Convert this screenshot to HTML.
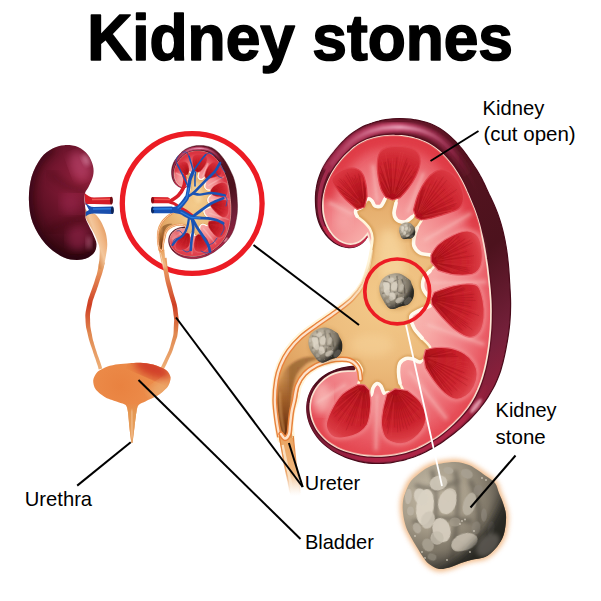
<!DOCTYPE html>
<html><head><meta charset="utf-8"><title>Kidney stones</title>
<style>
html,body{margin:0;padding:0;background:#fff;}
body{width:601px;height:601px;overflow:hidden;font-family:"Liberation Sans",sans-serif;}
svg{display:block;}
text{font-family:"Liberation Sans",sans-serif;fill:#000;}
</style></head><body>
<svg width="601" height="601" viewBox="0 0 601 601">
<defs>

<radialGradient id="gFace" gradientUnits="userSpaceOnUse" cx="0" cy="0" r="185" gradientTransform="translate(388,295) scale(0.7,1)">
  <stop offset="0" stop-color="#fbc8c0"/><stop offset="0.38" stop-color="#f7a9a6"/>
  <stop offset="0.62" stop-color="#f07f85"/><stop offset="0.82" stop-color="#e8545e"/><stop offset="1" stop-color="#df3c46"/>
</radialGradient>
<linearGradient id="gCaps" gradientUnits="userSpaceOnUse" x1="320" y1="140" x2="510" y2="400">
  <stop offset="0" stop-color="#741a32"/><stop offset="0.27" stop-color="#561420"/>
  <stop offset="0.58" stop-color="#4c121d"/><stop offset="0.82" stop-color="#74203a"/><stop offset="1" stop-color="#9a1f3c"/>
</linearGradient>
<radialGradient id="gPelvis" gradientUnits="userSpaceOnUse" cx="385" cy="300" r="120">
  <stop offset="0" stop-color="#f3ca8a"/><stop offset="0.5" stop-color="#edbd7e"/><stop offset="1" stop-color="#e0a260"/>
</radialGradient>
<radialGradient id="gLK" gradientUnits="userSpaceOnUse" cx="82" cy="180" r="80">
  <stop offset="0" stop-color="#92203c"/><stop offset="0.3" stop-color="#7a1832"/>
  <stop offset="0.6" stop-color="#5e1024"/><stop offset="0.85" stop-color="#420a18"/><stop offset="1" stop-color="#30060e"/>
</radialGradient>
<linearGradient id="gUr" gradientUnits="userSpaceOnUse" x1="0" y1="225" x2="0" y2="370">
  <stop offset="0" stop-color="#eeb078"/><stop offset="0.3" stop-color="#e89a60"/>
  <stop offset="0.55" stop-color="#cf3f24"/><stop offset="0.75" stop-color="#e08850"/><stop offset="1" stop-color="#eeb078"/>
</linearGradient>
<radialGradient id="gBl" gradientUnits="userSpaceOnUse" cx="150" cy="370" r="60">
  <stop offset="0" stop-color="#d9502e"/><stop offset="0.45" stop-color="#e8854a"/><stop offset="1" stop-color="#ee9a5c"/>
</radialGradient>
<radialGradient id="gStone" gradientUnits="userSpaceOnUse" cx="435" cy="495" r="75">
  <stop offset="0" stop-color="#b5ad9e"/><stop offset="0.5" stop-color="#8d8577"/><stop offset="0.85" stop-color="#57534c"/><stop offset="1" stop-color="#35332f"/>
</radialGradient>
<radialGradient id="gGlow" gradientUnits="userSpaceOnUse" cx="454" cy="516" r="62">
  <stop offset="0.8" stop-color="#f3c08a" stop-opacity="0.9"/><stop offset="1" stop-color="#f8dcb8" stop-opacity="0"/>
</radialGradient>
<filter id="b05"><feGaussianBlur stdDeviation="0.5"/></filter>
<filter id="b07"><feGaussianBlur stdDeviation="0.75"/></filter>
<filter id="b1"><feGaussianBlur stdDeviation="1"/></filter>
<filter id="b2"><feGaussianBlur stdDeviation="2"/></filter>
<filter id="b3"><feGaussianBlur stdDeviation="2.8"/></filter>
<filter id="b4"><feGaussianBlur stdDeviation="4"/></filter>

<clipPath id="cBl"><path d="M129.4,363.2C126.4,363.4 120.9,363.9 118.0,364.3C115.1,364.7 110.2,365.5 107.5,366.5C104.8,367.5 99.3,370.2 97.4,372.0C95.5,373.8 93.4,377.9 93.2,380.2C93.0,382.5 93.9,387.0 95.6,389.3C97.3,391.6 102.6,395.9 105.6,397.6C108.6,399.3 115.7,401.2 118.4,402.2C121.1,403.2 124.4,403.7 125.7,405.0C127.0,406.3 127.5,409.3 128.0,412.2C128.5,415.1 129.0,423.0 129.4,426.9C129.8,430.8 130.9,439.4 131.2,441.5C131.5,443.6 131.8,443.0 132.0,443.0C132.2,443.0 132.4,443.6 132.7,441.5C133.0,439.4 134.0,430.8 134.5,426.9C135.0,423.0 135.9,415.1 136.4,412.2C136.9,409.3 137.3,406.5 138.6,405.0C139.9,403.5 143.2,402.6 145.9,401.2C148.6,399.8 155.8,396.7 158.7,394.8C161.6,392.9 166.2,388.9 167.8,386.6C169.4,384.3 170.8,379.7 170.6,377.5C170.4,375.3 168.3,371.7 166.0,370.0C163.7,368.3 156.6,365.6 153.2,364.6C149.8,363.6 143.6,363.0 140.4,362.8C137.2,362.6 132.4,363.0 129.4,363.2Z"/></clipPath>
<linearGradient id="gUre" gradientUnits="userSpaceOnUse" x1="0" y1="402" x2="0" y2="444"><stop offset="0" stop-color="#e4904e" stop-opacity="0"/><stop offset="0.25" stop-color="#e49852"/><stop offset="1" stop-color="#e8a668"/></linearGradient>
<radialGradient id="gBl2" gradientUnits="userSpaceOnUse" cx="120" cy="386" r="55">
<stop offset="0" stop-color="#e98240"/><stop offset="0.6" stop-color="#ec8c4a"/><stop offset="1" stop-color="#ee9858"/></radialGradient>
<linearGradient id="gFun" gradientUnits="userSpaceOnUse" x1="88" y1="235" x2="108" y2="228">
<stop offset="0" stop-color="#d98a4e"/><stop offset="0.35" stop-color="#f3c79c"/><stop offset="0.6" stop-color="#f0b684"/><stop offset="1" stop-color="#de9256"/></linearGradient>
<clipPath id="cLK"><path d="M64.3,145.2C68.5,144.9 74.0,145.4 78.0,147.0C82.0,148.6 85.5,151.8 88.0,155.0C90.5,158.2 92.2,162.5 93.0,166.0C93.8,169.5 93.7,172.7 93.0,176.0C92.3,179.3 90.3,183.2 89.0,186.0C87.7,188.8 85.8,190.7 85.0,193.0C84.2,195.3 84.4,197.2 84.5,200.0C84.6,202.8 85.3,207.0 85.5,210.0C85.7,213.0 84.9,215.3 85.5,218.0C86.1,220.7 87.8,223.3 89.0,226.0C90.2,228.7 91.8,231.0 93.0,234.0C94.2,237.0 96.4,240.8 96.5,244.0C96.6,247.2 95.9,250.9 93.5,253.5C91.1,256.1 86.9,258.9 82.0,259.6C77.1,260.3 70.1,260.1 64.0,257.5C57.9,254.9 50.8,249.8 45.6,244.0C40.4,238.2 35.6,230.3 32.8,223.0C30.0,215.7 29.1,207.7 28.9,200.0C28.7,192.3 29.7,183.6 31.7,176.6C33.7,169.6 37.5,162.7 41.0,158.0C44.5,153.3 48.7,150.7 52.6,148.6C56.5,146.5 60.1,145.5 64.3,145.2Z"/></clipPath>
<linearGradient id="gStripe" gradientUnits="userSpaceOnUse" x1="330" y1="0" x2="480" y2="0">
<stop offset="0" stop-color="#a02a4c"/><stop offset="0.45" stop-color="#c04468"/><stop offset="0.8" stop-color="#8a2040" stop-opacity="0.7"/><stop offset="1" stop-color="#5a1424" stop-opacity="0"/></linearGradient>
<linearGradient id="gStripeHi" gradientUnits="userSpaceOnUse" x1="340" y1="0" x2="460" y2="0">
<stop offset="0" stop-color="#d87898" stop-opacity="0.2"/><stop offset="0.5" stop-color="#e8a0b8" stop-opacity="0.95"/><stop offset="1" stop-color="#c05878" stop-opacity="0"/></linearGradient>
<linearGradient id="gStripeB" gradientUnits="userSpaceOnUse" x1="300" y1="0" x2="505" y2="0">
<stop offset="0" stop-color="#8a1c38" stop-opacity="0.3"/><stop offset="0.3" stop-color="#a82244"/><stop offset="0.8" stop-color="#b02848"/><stop offset="1" stop-color="#7a1a30" stop-opacity="0"/></linearGradient>
<clipPath id="cFace"><path d="M367.6,233.6C366.9,234.4 364.9,237.1 363.3,238.6C361.8,240.0 360.1,241.4 358.3,242.3C356.4,243.2 354.4,243.8 352.3,244.0C350.3,244.2 348.1,244.0 346.0,243.5C344.0,243.1 341.9,242.2 340.0,241.1C338.1,240.0 336.4,238.6 334.8,237.1C333.2,235.6 331.7,233.8 330.5,231.9C329.2,230.0 328.1,228.0 327.1,225.9C326.2,223.9 325.4,221.7 324.7,219.5C324.1,217.3 323.6,215.0 323.3,212.8C323.0,210.5 322.9,208.2 322.9,205.9C322.9,203.6 323.0,201.3 323.3,199.0C323.6,196.8 324.0,194.5 324.6,192.2C325.1,190.0 325.7,187.7 326.5,185.5C327.3,183.3 328.1,181.2 329.1,179.1C330.1,177.0 331.1,174.9 332.3,172.9C333.5,170.9 334.8,169.0 336.1,167.0C337.4,165.1 338.9,163.3 340.3,161.5C341.8,159.7 343.3,157.9 344.9,156.2C346.5,154.5 348.2,152.8 349.9,151.3C351.6,149.7 353.3,148.2 355.2,146.8C357.0,145.4 359.0,144.2 361.0,143.1C363.0,141.9 365.1,141.0 367.2,140.1C369.4,139.3 371.6,138.6 373.8,138.0C376.1,137.4 378.4,137.0 380.7,136.6C382.9,136.3 385.3,136.0 387.6,135.8C389.9,135.6 392.2,135.5 394.6,135.6C396.9,135.6 399.2,135.7 401.5,135.9C403.8,136.1 406.1,136.4 408.4,136.9C410.7,137.3 413.0,137.8 415.2,138.5C417.4,139.1 419.6,139.8 421.8,140.7C423.9,141.5 426.0,142.5 428.0,143.6C430.1,144.7 432.0,145.9 433.9,147.2C435.8,148.6 437.6,150.0 439.4,151.5C441.1,153.0 442.8,154.7 444.4,156.3C446.0,158.0 447.6,159.8 449.0,161.6C450.5,163.4 451.9,165.2 453.3,167.1C454.6,169.0 455.9,171.0 457.2,172.9C458.4,174.9 459.6,176.9 460.7,179.0C461.8,181.0 462.9,183.1 463.9,185.2C464.9,187.3 465.9,189.4 466.8,191.6C467.8,193.7 468.7,195.8 469.6,198.0C470.5,200.1 471.4,202.3 472.3,204.5C473.2,206.6 474.1,208.8 474.9,211.0C475.7,213.2 476.4,215.4 477.1,217.6C477.9,219.8 478.5,222.1 479.2,224.3C479.8,226.6 480.4,228.8 480.9,231.1C481.5,233.4 482.0,235.7 482.5,238.0C483.0,240.2 483.4,242.5 483.9,244.8C484.3,247.1 484.7,249.4 485.1,251.7C485.5,254.0 485.9,256.4 486.2,258.7C486.6,261.0 486.9,263.3 487.3,265.6C487.6,267.9 487.9,270.3 488.1,272.6C488.4,274.9 488.7,277.2 488.9,279.6C489.2,281.9 489.4,284.2 489.6,286.5C489.9,288.9 490.1,291.2 490.2,293.5C490.4,295.9 490.6,298.2 490.7,300.5C490.8,302.9 490.9,305.2 490.9,307.5C491.0,309.9 491.0,312.2 490.9,314.6C490.9,316.9 490.9,319.2 490.8,321.6C490.7,323.9 490.6,326.2 490.5,328.6C490.3,330.9 490.1,333.2 489.9,335.6C489.7,337.9 489.5,340.2 489.2,342.6C489.0,344.9 488.7,347.2 488.3,349.5C488.0,351.8 487.6,354.1 487.2,356.4C486.8,358.7 486.3,361.0 485.9,363.3C485.4,365.6 484.9,367.9 484.3,370.2C483.7,372.4 483.1,374.7 482.4,376.9C481.7,379.1 481.0,381.3 480.2,383.5C479.4,385.7 478.5,387.9 477.6,390.0C476.6,392.1 475.6,394.2 474.5,396.3C473.4,398.3 472.2,400.3 471.0,402.3C469.8,404.3 468.4,406.2 467.1,408.1C465.7,410.0 464.2,411.8 462.7,413.5C461.2,415.3 459.7,417.0 458.0,418.7C456.4,420.4 454.8,422.0 453.1,423.6C451.4,425.3 449.6,426.8 447.9,428.3C446.1,429.9 444.3,431.4 442.5,432.8C440.6,434.3 438.8,435.7 436.9,437.0C434.9,438.3 433.0,439.6 431.0,440.8C429.0,442.1 427.0,443.2 425.0,444.3C422.9,445.4 420.8,446.5 418.7,447.4C416.6,448.4 414.4,449.2 412.2,450.0C410.1,450.8 407.8,451.5 405.6,452.1C403.3,452.7 401.1,453.2 398.8,453.7C396.5,454.2 394.2,454.6 391.9,454.9C389.6,455.2 387.3,455.5 385.0,455.6C382.7,455.8 380.3,455.9 378.0,455.9C375.7,455.9 373.3,455.8 371.0,455.7C368.7,455.6 366.4,455.4 364.1,455.1C361.8,454.8 359.5,454.4 357.2,453.9C354.9,453.5 352.6,452.9 350.4,452.3C348.2,451.7 345.9,451.0 343.8,450.2C341.6,449.4 339.5,448.5 337.4,447.5C335.4,446.4 333.4,445.3 331.5,444.0C329.6,442.7 327.7,441.3 326.0,439.8C324.3,438.3 322.6,436.7 321.2,435.0C319.7,433.3 318.3,431.4 317.0,429.5C315.8,427.6 314.7,425.6 313.8,423.5C312.8,421.4 312.0,419.3 311.5,417.1C310.9,414.9 310.5,412.6 310.3,410.4C310.1,408.2 310.1,405.9 310.4,403.7C310.6,401.4 311.1,399.2 311.8,397.1C312.5,395.0 313.5,392.9 314.5,390.9C315.6,388.9 316.9,387.0 318.3,385.2C319.7,383.5 321.3,381.8 323.0,380.3C324.7,378.8 326.6,377.5 328.5,376.3C330.4,375.2 332.5,374.2 334.6,373.4C336.7,372.7 338.9,372.1 341.2,371.7C343.4,371.3 345.7,371.2 348.0,371.1C350.3,371.0 353.8,371.0 355.0,371.0 L380,330 L380,270 Z"/></clipPath>
<clipPath id="cPel"><path d="M279.0,441.0C276.5,438.1 275.9,425.7 275.0,420.0C274.1,414.3 272.6,405.6 272.5,400.0C272.4,394.4 273.2,385.0 274.0,380.0C274.8,375.0 276.3,368.3 278.0,364.0C279.7,359.7 283.1,353.1 286.0,349.0C288.9,344.9 294.9,338.2 299.0,334.5C303.1,330.8 310.2,325.9 315.0,322.5C319.8,319.1 328.1,313.6 333.0,310.0C337.9,306.4 346.1,300.8 350.0,297.0C353.9,293.2 358.6,287.3 361.0,283.0C363.4,278.7 366.1,270.6 367.5,266.0C368.9,261.4 370.3,253.9 371.0,250.0C371.7,246.1 372.6,240.9 372.5,238.0C372.4,235.1 371.2,231.2 370.0,229.0C368.8,226.8 365.8,223.8 364.0,222.0C362.2,220.2 358.1,217.7 357.0,216.0C355.9,214.3 355.3,211.3 356.0,210.0C356.7,208.7 360.3,208.5 362.0,207.0C363.7,205.5 366.6,199.8 368.0,199.0C369.4,198.2 371.0,200.0 372.0,201.0C373.0,202.0 373.7,205.3 375.0,206.0C376.3,206.7 379.6,207.0 381.0,206.0C382.4,205.0 384.2,200.8 385.0,199.0C385.8,197.2 385.3,193.8 387.0,193.0C388.7,192.2 395.7,191.6 397.0,193.0C398.3,194.4 396.4,200.2 396.0,203.0C395.6,205.8 393.9,210.6 394.0,213.0C394.1,215.4 395.5,218.7 397.0,220.0C398.5,221.3 402.9,222.4 405.0,222.0C407.1,221.6 410.3,218.3 412.0,217.0C413.7,215.7 415.6,212.7 417.0,213.0C418.4,213.3 422.0,216.9 422.0,219.0C422.0,221.1 418.1,225.3 417.0,228.0C415.9,230.7 414.4,235.5 414.0,238.0C413.6,240.5 413.2,243.9 414.0,246.0C414.8,248.1 417.8,251.7 420.0,253.0C422.2,254.3 427.6,254.4 430.0,255.0C432.4,255.6 436.2,255.7 437.0,257.0C437.8,258.3 437.0,262.0 436.0,264.0C435.0,266.0 431.7,269.0 430.0,271.0C428.3,273.0 425.0,275.6 424.0,278.0C423.0,280.4 422.4,285.5 423.0,288.0C423.6,290.5 426.5,294.3 428.0,296.0C429.5,297.7 433.7,298.6 434.0,300.0C434.3,301.4 432.0,304.6 430.0,306.0C428.0,307.4 422.7,308.6 420.0,310.0C417.3,311.4 411.8,313.5 411.0,316.0C410.2,318.5 412.5,324.9 414.0,328.0C415.5,331.1 419.8,335.3 422.0,338.0C424.2,340.7 429.2,344.6 430.0,347.0C430.8,349.4 429.4,352.9 428.0,355.0C426.6,357.1 422.1,361.4 420.0,362.0C417.9,362.6 415.0,359.5 413.0,359.0C411.0,358.5 407.8,357.9 406.0,358.5C404.2,359.1 401.1,361.1 400.0,363.0C398.9,364.9 398.5,369.2 398.5,372.0C398.5,374.8 399.4,380.3 400.0,383.0C400.6,385.7 403.6,389.5 403.0,391.0C402.4,392.5 398.1,393.9 396.0,394.0C393.9,394.1 389.7,392.1 388.0,392.0C386.3,391.9 385.0,393.8 384.0,393.0C383.0,392.2 382.0,387.3 381.0,386.0C380.0,384.7 378.1,383.2 377.0,383.5C375.9,383.8 373.8,386.4 373.0,388.0C372.2,389.6 372.1,394.4 371.0,395.0C369.9,395.6 366.8,393.0 365.0,392.0C363.2,391.0 358.7,390.0 358.0,388.0C357.3,386.0 359.4,380.5 360.0,378.0C360.6,375.5 362.4,372.2 362.0,370.0C361.6,367.8 358.7,363.2 357.0,362.0C355.3,360.8 352.1,361.5 350.0,361.5C347.9,361.5 344.7,361.8 342.0,362.0C339.3,362.2 334.4,362.2 331.0,363.0C327.6,363.8 321.4,366.2 318.0,368.0C314.6,369.8 309.4,373.4 307.0,376.0C304.6,378.6 301.9,383.2 300.6,386.6C299.3,390.0 298.9,396.7 298.0,400.0C297.1,403.3 295.2,406.4 294.4,410.0C293.6,413.6 292.7,421.7 292.5,426.0C292.3,430.3 294.9,438.9 293.0,441.0C291.1,443.1 281.5,443.9 279.0,441.0Z"/></clipPath>
<linearGradient id="gLum" gradientUnits="userSpaceOnUse" x1="312" y1="356" x2="283" y2="425">
<stop offset="0" stop-color="#c88a4c" stop-opacity="0"/><stop offset="0.4" stop-color="#c48644" stop-opacity="0.4"/><stop offset="0.75" stop-color="#a4622c" stop-opacity="0.8"/><stop offset="1" stop-color="#70360f"/></linearGradient>
<linearGradient id="gLum2" gradientUnits="userSpaceOnUse" x1="276" y1="0" x2="291" y2="0">
<stop offset="0" stop-color="#c98a50" stop-opacity="0.0"/><stop offset="1" stop-color="#4e2008" stop-opacity="0.4"/></linearGradient>
<linearGradient id="gWallFade" gradientUnits="userSpaceOnUse" x1="335" y1="312" x2="370" y2="262">
<stop offset="0" stop-color="#e8823c"/><stop offset="1" stop-color="#e8a868" stop-opacity="0"/></linearGradient>
<linearGradient id="gWallFade2" gradientUnits="userSpaceOnUse" x1="335" y1="312" x2="370" y2="262">
<stop offset="0" stop-color="#fde3cc"/><stop offset="1" stop-color="#fdf3d6" stop-opacity="0.6"/></linearGradient>
<linearGradient id="gTube" gradientUnits="userSpaceOnUse" x1="0" y1="436" x2="0" y2="496">
<stop offset="0" stop-color="#eaa462"/><stop offset="0.6" stop-color="#f0b67c"/><stop offset="1" stop-color="#f8dcc0" stop-opacity="0"/></linearGradient>
<linearGradient id="gTubeEdge" gradientUnits="userSpaceOnUse" x1="0" y1="436" x2="0" y2="494"><stop offset="0" stop-color="#e08038"/><stop offset="0.6" stop-color="#e89858" stop-opacity="0.8"/><stop offset="1" stop-color="#f0b888" stop-opacity="0"/></linearGradient>
<linearGradient id="gTubeHi" gradientUnits="userSpaceOnUse" x1="0" y1="436" x2="0" y2="496">
<stop offset="0" stop-color="#fbe6cc" stop-opacity="0.9"/><stop offset="0.7" stop-color="#fbe6cc" stop-opacity="0.8"/><stop offset="1" stop-color="#fff" stop-opacity="0"/></linearGradient>
<linearGradient id="gLum3" gradientUnits="userSpaceOnUse" x1="0" y1="376" x2="0" y2="432"><stop offset="0" stop-color="#a8642c" stop-opacity="0"/><stop offset="0.4" stop-color="#9a5622" stop-opacity="0.6"/><stop offset="1" stop-color="#6a300c" stop-opacity="0.95"/></linearGradient>
<radialGradient id="gPA" gradientUnits="userSpaceOnUse" cx="364.5" cy="207.0" r="43.8"><stop offset="0" stop-color="#aa0e18"/><stop offset="0.4" stop-color="#c01a24"/><stop offset="0.7" stop-color="#cc242e"/><stop offset="0.9" stop-color="#d6323c"/><stop offset="1" stop-color="#dc3a44"/></radialGradient>
<radialGradient id="gPB" gradientUnits="userSpaceOnUse" cx="392.5" cy="200.0" r="55.1"><stop offset="0" stop-color="#aa0e18"/><stop offset="0.4" stop-color="#c01a24"/><stop offset="0.7" stop-color="#cc242e"/><stop offset="0.9" stop-color="#d6323c"/><stop offset="1" stop-color="#dc3a44"/></radialGradient>
<radialGradient id="gPC" gradientUnits="userSpaceOnUse" cx="416.0" cy="217.6" r="56.7"><stop offset="0" stop-color="#aa0e18"/><stop offset="0.4" stop-color="#c01a24"/><stop offset="0.7" stop-color="#cc242e"/><stop offset="0.9" stop-color="#d6323c"/><stop offset="1" stop-color="#dc3a44"/></radialGradient>
<radialGradient id="gPD" gradientUnits="userSpaceOnUse" cx="431.0" cy="262.0" r="53.5"><stop offset="0" stop-color="#aa0e18"/><stop offset="0.4" stop-color="#c01a24"/><stop offset="0.7" stop-color="#cc242e"/><stop offset="0.9" stop-color="#d93a42"/><stop offset="1" stop-color="#e25058"/></radialGradient>
<radialGradient id="gPE" gradientUnits="userSpaceOnUse" cx="431.0" cy="299.0" r="59.1"><stop offset="0" stop-color="#aa0e18"/><stop offset="0.4" stop-color="#c01a24"/><stop offset="0.7" stop-color="#cc242e"/><stop offset="0.9" stop-color="#d93a42"/><stop offset="1" stop-color="#e25058"/></radialGradient>
<radialGradient id="gPF" gradientUnits="userSpaceOnUse" cx="423.5" cy="357.5" r="58.4"><stop offset="0" stop-color="#aa0e18"/><stop offset="0.4" stop-color="#c01a24"/><stop offset="0.7" stop-color="#cc242e"/><stop offset="0.9" stop-color="#d93a42"/><stop offset="1" stop-color="#e25058"/></radialGradient>
<radialGradient id="gPG" gradientUnits="userSpaceOnUse" cx="395.0" cy="388.7" r="55.4"><stop offset="0" stop-color="#aa0e18"/><stop offset="0.4" stop-color="#c01a24"/><stop offset="0.7" stop-color="#cc242e"/><stop offset="0.9" stop-color="#d93a42"/><stop offset="1" stop-color="#e25058"/></radialGradient>
<radialGradient id="gPH" gradientUnits="userSpaceOnUse" cx="364.5" cy="385.0" r="60.3"><stop offset="0" stop-color="#aa0e18"/><stop offset="0.4" stop-color="#c01a24"/><stop offset="0.7" stop-color="#cc242e"/><stop offset="0.9" stop-color="#d93a42"/><stop offset="1" stop-color="#e25058"/></radialGradient>
<radialGradient id="gGlow2" gradientUnits="userSpaceOnUse" cx="454" cy="516" r="66">
<stop offset="0.7" stop-color="#efb27a" stop-opacity="0.95"/><stop offset="0.86" stop-color="#f6d2a8" stop-opacity="0.6"/><stop offset="1" stop-color="#fbe8d0" stop-opacity="0"/></radialGradient>
<radialGradient id="gStone2" gradientUnits="userSpaceOnUse" cx="432" cy="494" r="84">
<stop offset="0" stop-color="#c4baa6"/><stop offset="0.4" stop-color="#a89e8b"/><stop offset="0.68" stop-color="#7e7667"/><stop offset="0.88" stop-color="#4a463f"/><stop offset="1" stop-color="#2e2c29"/></radialGradient>
<clipPath id="cSt"><path d="M438.0,464.0C442.3,463.2 449.8,461.8 455.0,462.0C460.2,462.2 465.0,463.5 469.0,465.0C473.0,466.5 476.2,469.2 479.0,471.0C481.8,472.8 483.3,474.0 486.0,476.0C488.7,478.0 492.8,480.2 495.0,483.0C497.2,485.8 497.7,489.7 499.0,493.0C500.3,496.3 501.8,499.3 503.0,503.0C504.2,506.7 505.7,510.7 506.0,515.0C506.3,519.3 505.7,525.0 505.0,529.0C504.3,533.0 503.7,535.7 502.0,539.0C500.3,542.3 497.8,546.0 495.0,549.0C492.2,552.0 489.0,555.2 485.0,557.0C481.0,558.8 475.0,559.0 471.0,560.0C467.0,561.0 464.3,561.8 461.0,563.0C457.7,564.2 454.7,566.0 451.0,567.0C447.3,568.0 442.7,569.5 439.0,569.0C435.3,568.5 431.7,566.0 429.0,564.0C426.3,562.0 424.8,559.5 423.0,557.0C421.2,554.5 419.8,552.0 418.0,549.0C416.2,546.0 414.0,542.7 412.0,539.0C410.0,535.3 407.5,531.3 406.0,527.0C404.5,522.7 403.5,517.3 403.0,513.0C402.5,508.7 402.5,504.7 403.0,501.0C403.5,497.3 404.7,494.3 406.0,491.0C407.3,487.7 408.5,484.2 411.0,481.0C413.5,477.8 418.0,474.3 421.0,472.0C424.0,469.7 426.2,468.3 429.0,467.0C431.8,465.7 433.7,464.8 438.0,464.0Z"/></clipPath>
</defs>
<rect width="601" height="601" fill="#fff"/>
<text x="87.3" y="59.8" font-size="64" font-weight="bold" stroke="#000" stroke-width="1.6" stroke-linejoin="round" textLength="425.7" lengthAdjust="spacingAndGlyphs">Kidney stones</text>
<circle cx="192.2" cy="203.5" r="69.9" fill="none" stroke="#ec1c24" stroke-width="5.3"/>
<path d="M99.1,261.4C99.0,262.1 98.7,264.0 98.5,265.3C98.3,266.6 98.1,267.9 97.9,269.2C97.6,270.5 97.4,271.7 97.1,272.9C96.8,274.2 96.4,275.4 96.0,276.6C95.6,277.9 95.2,279.2 94.8,280.4C94.4,281.7 94.0,282.9 93.6,284.2C93.2,285.4 92.7,286.6 92.3,287.9C91.9,289.1 91.4,290.4 91.0,291.6C90.6,292.8 90.1,294.1 89.7,295.3C89.2,296.6 88.7,297.9 88.3,299.2C87.9,300.5 87.7,301.9 87.4,303.2C87.2,304.6 86.9,305.8 86.6,307.1C86.4,308.4 86.1,309.7 85.8,311.1C85.6,312.5 85.4,313.9 85.3,315.3C85.3,316.7 85.4,318.1 85.5,319.4C85.5,320.8 85.6,322.1 85.7,323.4C85.8,324.8 85.9,326.2 86.1,327.6C86.4,328.9 86.8,330.2 87.1,331.5C87.4,332.9 87.7,334.1 88.0,335.4C88.3,336.7 88.6,338.0 88.9,339.3C89.3,340.6 89.7,341.9 90.1,343.2C90.5,344.5 91.0,345.7 91.4,347.0C91.8,348.2 92.2,349.5 92.7,350.7C93.1,352.0 93.4,353.3 93.9,354.5C94.3,355.8 94.7,357.0 95.2,358.3C95.6,359.5 96.0,360.8 96.4,362.0C96.9,363.3 97.3,364.5 97.7,365.7C98.1,367.0 98.6,368.9 98.8,369.5 L102.2,368.5C102.0,367.8 101.5,365.9 101.1,364.7C100.7,363.4 100.2,362.1 99.8,360.9C99.3,359.6 98.9,358.4 98.4,357.1C98.0,355.9 97.6,354.7 97.1,353.4C96.7,352.2 96.3,350.9 95.9,349.7C95.5,348.4 95.1,347.2 94.7,345.9C94.3,344.6 93.9,343.4 93.6,342.1C93.2,340.9 92.9,339.7 92.6,338.4C92.3,337.1 92.1,335.9 91.9,334.6C91.6,333.3 91.4,332.0 91.1,330.7C90.9,329.4 90.6,328.2 90.4,326.9C90.2,325.7 90.2,324.4 90.2,323.2C90.1,321.9 90.1,320.6 90.1,319.3C90.0,318.0 89.9,316.7 90.0,315.5C90.0,314.3 90.2,313.1 90.4,311.9C90.6,310.6 90.9,309.4 91.2,308.1C91.5,306.8 91.7,305.5 92.0,304.2C92.3,302.9 92.5,301.7 92.8,300.5C93.2,299.3 93.7,298.1 94.1,296.9C94.5,295.7 95.0,294.4 95.4,293.2C95.9,291.9 96.3,290.7 96.8,289.4C97.2,288.2 97.7,286.9 98.1,285.7C98.5,284.4 98.9,283.1 99.3,281.9C99.7,280.6 100.1,279.4 100.6,278.1C101.0,276.8 101.4,275.6 101.9,274.3C102.3,273.0 102.7,271.7 103.0,270.3C103.4,269.0 103.7,267.7 104.0,266.4C104.3,265.1 104.8,263.2 104.9,262.6Z" fill="url(#gUr)"/>
<path d="M162.4,258.2C162.5,258.8 162.6,260.8 162.7,262.1C162.8,263.5 162.9,264.8 163.1,266.1C163.2,267.5 163.4,268.8 163.5,270.2C163.7,271.5 164.0,272.8 164.2,274.1C164.4,275.4 164.6,276.8 164.9,278.1C165.1,279.4 165.4,280.8 165.7,282.1C166.0,283.4 166.4,284.7 166.7,286.0C167.1,287.2 167.4,288.5 167.8,289.8C168.1,291.1 168.4,292.4 168.8,293.6C169.2,294.9 169.5,296.2 169.9,297.5C170.3,298.7 170.7,300.0 171.0,301.3C171.4,302.5 171.8,303.7 172.1,305.0C172.4,306.2 172.6,307.4 172.8,308.7C173.0,309.9 173.1,311.2 173.3,312.5C173.4,313.8 173.6,315.2 173.8,316.5C173.9,317.8 174.2,319.0 174.2,320.2C174.2,321.4 174.0,322.7 173.9,324.0C173.9,325.2 173.8,326.6 173.7,327.9C173.7,329.2 173.7,330.6 173.6,331.8C173.5,333.1 173.5,334.3 173.2,335.5C173.0,336.8 172.6,337.9 172.2,339.2C171.9,340.4 171.5,341.7 171.2,343.0C170.8,344.3 170.5,345.6 170.2,346.8C169.8,348.0 169.4,349.3 168.9,350.4C168.4,351.6 167.8,352.8 167.3,354.0C166.7,355.2 166.2,356.4 165.6,357.6C165.1,358.8 164.5,360.0 164.0,361.1C163.4,362.3 162.8,363.5 162.2,364.7C161.6,365.8 160.7,367.6 160.4,368.2 L163.6,369.8C163.9,369.2 164.8,367.4 165.4,366.2C166.0,365.1 166.6,363.9 167.1,362.7C167.7,361.5 168.2,360.2 168.8,359.0C169.3,357.8 169.9,356.6 170.4,355.4C171.0,354.2 171.6,353.0 172.1,351.7C172.6,350.5 173.0,349.1 173.4,347.9C173.9,346.6 174.3,345.3 174.7,344.1C175.1,342.8 175.5,341.6 175.9,340.3C176.3,339.0 176.9,337.7 177.2,336.4C177.5,335.0 177.7,333.6 177.8,332.2C178.0,330.9 178.1,329.5 178.2,328.2C178.3,326.9 178.4,325.6 178.5,324.3C178.6,322.9 178.8,321.5 178.8,320.1C178.8,318.7 178.5,317.3 178.3,315.9C178.2,314.6 178.0,313.3 177.8,312.0C177.7,310.7 177.6,309.3 177.4,308.0C177.1,306.6 176.9,305.2 176.6,303.9C176.3,302.6 175.8,301.3 175.4,300.0C175.1,298.7 174.7,297.4 174.3,296.2C174.0,294.9 173.6,293.7 173.2,292.4C172.9,291.1 172.5,289.9 172.2,288.6C171.9,287.3 171.5,286.0 171.2,284.8C170.8,283.5 170.5,282.2 170.1,281.0C169.8,279.7 169.6,278.5 169.3,277.2C169.1,275.9 168.8,274.6 168.6,273.4C168.4,272.1 168.1,270.8 167.9,269.5C167.7,268.2 167.5,267.0 167.4,265.7C167.2,264.4 167.1,263.1 167.0,261.8C166.9,260.5 166.7,258.5 166.6,257.8Z" fill="url(#gUr)"/>
<path d="M129.4,363.2C126.4,363.4 120.9,363.9 118.0,364.3C115.1,364.7 110.2,365.5 107.5,366.5C104.8,367.5 99.3,370.2 97.4,372.0C95.5,373.8 93.4,377.9 93.2,380.2C93.0,382.5 93.9,387.0 95.6,389.3C97.3,391.6 102.6,395.9 105.6,397.6C108.6,399.3 115.7,401.2 118.4,402.2C121.1,403.2 124.4,403.7 125.7,405.0C127.0,406.3 127.5,409.3 128.0,412.2C128.5,415.1 129.0,423.0 129.4,426.9C129.8,430.8 130.9,439.4 131.2,441.5C131.5,443.6 131.8,443.0 132.0,443.0C132.2,443.0 132.4,443.6 132.7,441.5C133.0,439.4 134.0,430.8 134.5,426.9C135.0,423.0 135.9,415.1 136.4,412.2C136.9,409.3 137.3,406.5 138.6,405.0C139.9,403.5 143.2,402.6 145.9,401.2C148.6,399.8 155.8,396.7 158.7,394.8C161.6,392.9 166.2,388.9 167.8,386.6C169.4,384.3 170.8,379.7 170.6,377.5C170.4,375.3 168.3,371.7 166.0,370.0C163.7,368.3 156.6,365.6 153.2,364.6C149.8,363.6 143.6,363.0 140.4,362.8C137.2,362.6 132.4,363.0 129.4,363.2Z" fill="url(#gBl2)"/>
<g clip-path="url(#cBl)"><ellipse cx="152" cy="368" rx="20" ry="9" transform="rotate(24 152 368)" fill="#cf3a26" opacity="0.95" filter="url(#b4)"/><ellipse cx="160" cy="390" rx="12" ry="8" transform="rotate(-35 160 390)" fill="#ecae72" opacity="0.8" filter="url(#b4)"/><rect x="120" y="404" width="24" height="42" fill="url(#gUre)"/><path d="M131.2,410 L132,438" stroke="#f2bc8c" stroke-width="2.4" filter="url(#b1)"/></g>
<path d="M84.0,208.0C84.3,206.9 86.2,210.5 88.0,211.5C89.8,212.5 93.0,212.6 95.0,214.0C97.0,215.4 98.5,217.7 100.0,220.0C101.5,222.3 102.9,225.3 104.0,228.0C105.1,230.7 105.9,233.0 106.4,236.0C106.9,239.0 107.4,242.3 107.2,246.0C107.0,249.7 106.2,254.3 105.5,258.0C104.8,261.7 104.1,266.3 103.0,268.0C101.9,269.7 99.6,269.7 99.0,268.0C98.4,266.3 99.4,261.3 99.5,258.0C99.6,254.7 99.9,251.0 99.5,248.0C99.1,245.0 97.9,242.5 97.0,240.0C96.1,237.5 95.2,235.3 94.0,233.0C92.8,230.7 91.3,228.5 90.0,226.0C88.7,223.5 87.0,221.0 86.0,218.0C85.0,215.0 83.7,209.1 84.0,208.0Z" fill="url(#gFun)"/>
<path d="M84,192.5 C88,196 90,197.6 94,197.6 L111.5,196.9 L111.5,204.4 L94,204 C90,204 88,203.5 85.5,205 L85,201 Z" fill="#d41c26"/>
<path d="M92,199.5 L110,199.2" stroke="#f05a54" stroke-width="1.6" fill="none"/>
<ellipse cx="111.4" cy="200.6" rx="1.5" ry="3.8" fill="#6e0c12"/>
<path d="M85,202.5 C88,205 90,207 94,207 L112.5,206.6 L112.5,214 L94,213.4 C90,213.4 88,214.5 85.5,216.5 L85.5,212 L89,210 Z" fill="#1a4fae"/>
<path d="M93,209 L111,208.8" stroke="#2f7ad6" stroke-width="1.5" fill="none"/>
<ellipse cx="112.4" cy="210.2" rx="1.5" ry="3.8" fill="#0c2458"/>
<path d="M64.3,145.2C68.5,144.9 74.0,145.4 78.0,147.0C82.0,148.6 85.5,151.8 88.0,155.0C90.5,158.2 92.2,162.5 93.0,166.0C93.8,169.5 93.7,172.7 93.0,176.0C92.3,179.3 90.3,183.2 89.0,186.0C87.7,188.8 85.8,190.7 85.0,193.0C84.2,195.3 84.4,197.2 84.5,200.0C84.6,202.8 85.3,207.0 85.5,210.0C85.7,213.0 84.9,215.3 85.5,218.0C86.1,220.7 87.8,223.3 89.0,226.0C90.2,228.7 91.8,231.0 93.0,234.0C94.2,237.0 96.4,240.8 96.5,244.0C96.6,247.2 95.9,250.9 93.5,253.5C91.1,256.1 86.9,258.9 82.0,259.6C77.1,260.3 70.1,260.1 64.0,257.5C57.9,254.9 50.8,249.8 45.6,244.0C40.4,238.2 35.6,230.3 32.8,223.0C30.0,215.7 29.1,207.7 28.9,200.0C28.7,192.3 29.7,183.6 31.7,176.6C33.7,169.6 37.5,162.7 41.0,158.0C44.5,153.3 48.7,150.7 52.6,148.6C56.5,146.5 60.1,145.5 64.3,145.2Z" fill="url(#gLK)"/>
<g clip-path="url(#cLK)"><ellipse cx="80" cy="166" rx="10" ry="15" fill="#c04a72" opacity="0.6" filter="url(#b4)" transform="rotate(-20 80 166)"/><ellipse cx="86" cy="160" rx="3.5" ry="6" fill="#eaa0bc" opacity="0.5" filter="url(#b2)" transform="rotate(-25 86 160)"/><ellipse cx="70" cy="203" rx="10" ry="11" fill="#a02c54" opacity="0.45" filter="url(#b4)"/><ellipse cx="78" cy="238" rx="11" ry="13" fill="#a02c54" opacity="0.5" filter="url(#b4)"/><ellipse cx="89" cy="243" rx="3" ry="7" fill="#d880a0" opacity="0.4" filter="url(#b2)"/><path d="M50,172 C62,186 76,192 88,190" fill="none" stroke="#30050e" stroke-width="5" opacity="0.45" filter="url(#b4)"/><path d="M48,232 C60,224 76,220 88,217" fill="none" stroke="#30050e" stroke-width="5" opacity="0.45" filter="url(#b4)"/><path d="M93.5,253.5C91.6,254.5 86.9,258.9 82.0,259.6C77.1,260.3 70.1,260.1 64.0,257.5C57.9,254.9 50.8,249.8 45.6,244.0C40.4,238.2 35.6,230.3 32.8,223.0C30.0,215.7 29.1,207.7 28.9,200.0C28.7,192.3 29.7,183.6 31.7,176.6C33.7,169.6 37.5,162.7 41.0,158.0C44.5,153.3 50.7,150.2 52.6,148.6" fill="none" stroke="#25030a" stroke-width="9" opacity="0.6" filter="url(#b4)"/></g>
<use href="#kid" transform="translate(64.8,106.5) scale(0.3383,0.3286)"/>
<g transform="translate(64.8,106.5) scale(0.3383,0.3286)" clip-path="url(#cFace)"><path d="M323.3,199.0C323.5,197.9 324.0,194.5 324.6,192.2C325.1,190.0 325.7,187.7 326.5,185.5C327.3,183.3 328.1,181.2 329.1,179.1C330.1,177.0 331.1,174.9 332.3,172.9C333.5,170.9 334.8,169.0 336.1,167.0C337.4,165.1 338.9,163.3 340.3,161.5C341.8,159.7 343.3,157.9 344.9,156.2C346.5,154.5 348.2,152.8 349.9,151.3C351.6,149.7 353.3,148.2 355.2,146.8C357.0,145.4 359.0,144.2 361.0,143.1C363.0,141.9 365.1,141.0 367.2,140.1C369.4,139.3 371.6,138.6 373.8,138.0C376.1,137.4 378.4,137.0 380.7,136.6C382.9,136.3 385.3,136.0 387.6,135.8C389.9,135.6 392.2,135.5 394.6,135.6C396.9,135.6 399.2,135.7 401.5,135.9C403.8,136.1 406.1,136.4 408.4,136.9C410.7,137.3 413.0,137.8 415.2,138.5C417.4,139.1 419.6,139.8 421.8,140.7C423.9,141.5 426.0,142.5 428.0,143.6C430.1,144.7 432.0,145.9 433.9,147.2C435.8,148.6 437.6,150.0 439.4,151.5C441.1,153.0 442.8,154.7 444.4,156.3C446.0,158.0 447.6,159.8 449.0,161.6C450.5,163.4 451.9,165.2 453.3,167.1C454.6,169.0 455.9,171.0 457.2,172.9C458.4,174.9 459.6,176.9 460.7,179.0C461.8,181.0 462.9,183.1 463.9,185.2C464.9,187.3 465.9,189.4 466.8,191.6C467.8,193.7 468.7,195.8 469.6,198.0C470.5,200.1 471.4,202.3 472.3,204.5C473.2,206.6 474.1,208.8 474.9,211.0C475.7,213.2 476.4,215.4 477.1,217.6C477.9,219.8 478.5,222.1 479.2,224.3C479.8,226.6 480.4,228.8 480.9,231.1C481.5,233.4 482.0,235.7 482.5,238.0C483.0,240.2 483.4,242.5 483.9,244.8C484.3,247.1 484.7,249.4 485.1,251.7C485.5,254.0 485.9,256.4 486.2,258.7C486.6,261.0 486.9,263.3 487.3,265.6C487.6,267.9 487.9,270.3 488.1,272.6C488.4,274.9 488.7,277.2 488.9,279.6C489.2,281.9 489.4,284.2 489.6,286.5C489.9,288.9 490.1,291.2 490.2,293.5C490.4,295.9 490.6,298.2 490.7,300.5C490.8,302.9 490.9,305.2 490.9,307.5C491.0,309.9 491.0,312.2 490.9,314.6C490.9,316.9 490.9,319.2 490.8,321.6C490.7,323.9 490.6,326.2 490.5,328.6C490.3,330.9 490.1,333.2 489.9,335.6C489.7,337.9 489.5,340.2 489.2,342.6C489.0,344.9 488.7,347.2 488.3,349.5C488.0,351.8 487.6,354.1 487.2,356.4C486.8,358.7 486.3,361.0 485.9,363.3C485.4,365.6 484.9,367.9 484.3,370.2C483.7,372.4 483.1,374.7 482.4,376.9C481.7,379.1 481.0,381.3 480.2,383.5C479.4,385.7 478.5,387.9 477.6,390.0C476.6,392.1 475.6,394.2 474.5,396.3C473.4,398.3 472.2,400.3 471.0,402.3C469.8,404.3 468.4,406.2 467.1,408.1C465.7,410.0 464.2,411.8 462.7,413.5C461.2,415.3 459.7,417.0 458.0,418.7C456.4,420.4 454.8,422.0 453.1,423.6C451.4,425.3 449.6,426.8 447.9,428.3C446.1,429.9 444.3,431.4 442.5,432.8C440.6,434.3 438.8,435.7 436.9,437.0C434.9,438.3 433.0,439.6 431.0,440.8C429.0,442.1 427.0,443.2 425.0,444.3C422.9,445.4 420.8,446.5 418.7,447.4C416.6,448.4 414.4,449.2 412.2,450.0C410.1,450.8 407.8,451.5 405.6,452.1C403.3,452.7 401.1,453.2 398.8,453.7C396.5,454.2 394.2,454.6 391.9,454.9C389.6,455.2 387.3,455.5 385.0,455.6C382.7,455.8 380.3,455.9 378.0,455.9C375.7,455.9 373.3,455.8 371.0,455.7C368.7,455.6 366.4,455.4 364.1,455.1C361.8,454.8 359.5,454.4 357.2,453.9C354.9,453.5 352.6,452.9 350.4,452.3C348.2,451.7 345.9,451.0 343.8,450.2C341.6,449.4 339.5,448.5 337.4,447.5C335.4,446.4 333.4,445.3 331.5,444.0C329.6,442.7 327.7,441.3 326.0,439.8C324.3,438.3 322.6,436.7 321.2,435.0C319.7,433.3 318.3,431.4 317.0,429.5C315.8,427.6 314.7,425.6 313.8,423.5C312.8,421.4 312.0,419.3 311.5,417.1C310.9,414.9 310.5,412.6 310.3,410.4C310.1,408.2 310.1,405.9 310.4,403.7C310.6,401.4 311.1,399.2 311.8,397.1C312.5,395.0 313.5,392.9 314.5,390.9C315.6,388.9 316.9,387.0 318.3,385.2C319.7,383.5 321.3,381.8 323.0,380.3C324.7,378.8 327.6,377.0 328.5,376.3" fill="none" stroke="#d22834" stroke-width="52" opacity="0.3" filter="url(#b4)"/></g>
<path d="M152,197.1 L168,197.2 L172,200.2 L168,203.3 L152,203.3 Z" fill="#d81e28"/>
<path d="M172.0,200.0C173.1,199.2 176.4,197.4 178.3,195.4C180.2,193.4 182.2,190.6 183.3,188.0C184.4,185.4 184.9,182.1 185.0,180.0C185.1,177.9 184.2,176.2 184.0,175.5" fill="none" stroke="#d81e28" stroke-width="3.6" stroke-linecap="round" stroke-linejoin="round"/>
<path d="M178.3,195.4C179.1,194.2 182.2,190.6 183.3,188.0C184.4,185.4 184.9,182.1 185.0,180.0C185.1,177.9 184.2,176.2 184.0,175.5" fill="none" stroke="#d81e28" stroke-width="2.2" stroke-linecap="round" stroke-linejoin="round"/>
<path d="M168.0,201.5C169.0,201.8 172.0,202.5 174.0,203.5C176.0,204.5 178.0,206.2 180.0,207.5C182.0,208.8 184.0,209.7 186.0,211.0C188.0,212.3 191.0,214.8 192.0,215.5" fill="none" stroke="#d81e28" stroke-width="3.0" stroke-linecap="round" stroke-linejoin="round"/>
<path d="M153,199.3 L170,199.5" stroke="#f2524e" stroke-width="1.6" fill="none"/>
<ellipse cx="152.6" cy="200.2" rx="1.6" ry="3.1" fill="#8a0e16"/>
<path d="M152,206.8 L172,206.6 L177,209.5 L172,213.2 L152,213.2 Z" fill="#1a53b4"/>
<ellipse cx="152.6" cy="210" rx="1.6" ry="3.2" fill="#0c2a66"/>
<path d="M172.0,209.8C173.0,209.5 176.2,209.1 178.0,208.0C179.8,206.9 181.1,205.2 182.5,203.5C183.9,201.8 185.9,198.9 186.6,198.0" fill="none" stroke="#1a53b4" stroke-width="4.6" stroke-linecap="round" stroke-linejoin="round"/>
<path d="M182.5,203.5C183.2,202.6 185.6,200.6 186.6,198.0C187.6,195.4 188.0,191.1 188.6,188.0C189.2,184.9 189.2,182.4 190.0,179.6C190.8,176.8 192.8,172.7 193.3,171.3" fill="none" stroke="#1a53b4" stroke-width="3.4" stroke-linecap="round" stroke-linejoin="round"/>
<path d="M193.3,171.3C193.0,170.2 192.3,167.1 191.6,164.6C190.9,162.1 189.4,157.7 189.0,156.3" fill="none" stroke="#1a53b4" stroke-width="1.6" stroke-linecap="round" stroke-linejoin="round"/>
<path d="M193.3,171.3C193.9,170.5 195.2,168.2 196.6,166.3C198.0,164.4 200.1,161.6 201.6,159.6C203.1,157.6 205.0,155.4 205.7,154.6" fill="none" stroke="#1a53b4" stroke-width="1.6" stroke-linecap="round" stroke-linejoin="round"/>
<path d="M188.6,188.0C188.0,186.6 186.3,182.4 185.0,179.6C183.7,176.8 182.1,173.8 180.8,171.3C179.5,168.8 178.0,165.7 177.4,164.6" fill="none" stroke="#1a53b4" stroke-width="1.5" stroke-linecap="round" stroke-linejoin="round"/>
<path d="M187.0,197.0C188.1,196.3 191.1,194.8 193.3,193.0C195.5,191.2 197.5,188.8 200.0,186.3C202.5,183.8 205.7,180.5 208.2,178.0C210.7,175.5 213.0,173.8 215.0,171.3C217.0,168.8 219.2,164.4 220.0,163.0" fill="none" stroke="#1a53b4" stroke-width="2.6" stroke-linecap="round" stroke-linejoin="round"/>
<path d="M193.3,193.5C194.4,193.7 196.9,194.7 200.0,194.6C203.1,194.5 207.4,192.9 211.6,193.0C215.8,193.1 222.8,195.0 225.0,195.4" fill="none" stroke="#1a53b4" stroke-width="2.4" stroke-linecap="round" stroke-linejoin="round"/>
<path d="M195.0,186.0C195.0,184.7 194.9,180.3 195.0,178.0C195.1,175.7 195.4,173.0 195.5,172.0" fill="none" stroke="#1a53b4" stroke-width="1.6" stroke-linecap="round" stroke-linejoin="round"/>
<path d="M174.0,210.5C175.2,210.8 178.9,211.2 181.0,212.0C183.1,212.8 184.8,214.1 186.6,215.0C188.4,215.9 190.8,217.1 191.6,217.5" fill="none" stroke="#1a53b4" stroke-width="4.8" stroke-linecap="round" stroke-linejoin="round"/>
<path d="M191.6,217.5C193.3,216.2 198.3,212.4 201.6,210.0C204.9,207.6 207.9,205.2 211.5,203.3C215.1,201.4 221.2,199.1 223.2,198.3" fill="none" stroke="#1a53b4" stroke-width="2.8" stroke-linecap="round" stroke-linejoin="round"/>
<path d="M191.6,217.5C193.0,217.6 197.2,217.9 200.0,218.0C202.8,218.1 205.4,218.0 208.2,218.3C210.9,218.6 214.0,219.2 216.5,220.0C219.0,220.8 222.1,222.8 223.2,223.3" fill="none" stroke="#1a53b4" stroke-width="2.8" stroke-linecap="round" stroke-linejoin="round"/>
<path d="M191.6,217.5C192.4,219.0 194.7,223.4 196.6,226.6C198.5,229.8 201.3,233.5 203.2,236.6C205.1,239.7 207.1,242.5 208.2,245.0C209.3,247.5 209.7,250.4 210.0,251.5" fill="none" stroke="#1a53b4" stroke-width="2.8" stroke-linecap="round" stroke-linejoin="round"/>
<path d="M191.6,217.5C191.9,219.3 193.3,224.6 193.3,228.3C193.3,232.1 192.0,236.4 191.6,240.0C191.2,243.6 190.9,248.3 190.8,250.0" fill="none" stroke="#1a53b4" stroke-width="2.6" stroke-linecap="round" stroke-linejoin="round"/>
<path d="M189.0,218.0C188.7,219.4 188.3,223.8 187.4,226.6C186.5,229.4 185.1,232.8 183.3,235.0C181.5,237.2 178.4,238.3 176.6,240.0C174.8,241.7 173.2,244.2 172.5,245.0" fill="none" stroke="#1a53b4" stroke-width="2.2" stroke-linecap="round" stroke-linejoin="round"/>
<path d="M177.4,164.6C177.2,163.8 175.9,161.4 176.0,160.0C176.1,158.6 177.7,156.7 178.0,156.0" fill="none" stroke="#1a53b4" stroke-width="0.8" stroke-linecap="round" stroke-linejoin="round"/>
<path d="M189.0,156.3C188.5,155.6 187.0,152.6 186.0,152.0C185.0,151.4 183.5,152.4 183.0,152.5" fill="none" stroke="#1a53b4" stroke-width="0.8" stroke-linecap="round" stroke-linejoin="round"/>
<path d="M205.7,154.6C206.4,154.3 208.6,152.8 210.0,153.0C211.4,153.2 213.3,155.5 214.0,156.0" fill="none" stroke="#1a53b4" stroke-width="0.8" stroke-linecap="round" stroke-linejoin="round"/>
<path d="M220.0,163.0C220.3,163.8 221.2,166.5 222.0,168.0C222.8,169.5 224.5,171.3 225.0,172.0" fill="none" stroke="#1a53b4" stroke-width="0.8" stroke-linecap="round" stroke-linejoin="round"/>
<path d="M225.0,195.4C225.3,196.2 226.8,198.2 227.0,200.0C227.2,201.8 226.2,205.0 226.0,206.0" fill="none" stroke="#1a53b4" stroke-width="0.8" stroke-linecap="round" stroke-linejoin="round"/>
<path d="M223.2,223.3C223.3,224.2 224.4,227.1 224.0,229.0C223.6,230.9 221.5,234.0 221.0,235.0" fill="none" stroke="#1a53b4" stroke-width="0.8" stroke-linecap="round" stroke-linejoin="round"/>
<path d="M210.0,251.5C209.3,251.8 207.5,253.1 206.0,253.0C204.5,252.9 201.8,251.3 201.0,251.0" fill="none" stroke="#1a53b4" stroke-width="0.8" stroke-linecap="round" stroke-linejoin="round"/>
<path d="M190.8,250.0C190.2,250.3 188.3,252.0 187.0,252.0C185.7,252.0 183.7,250.3 183.0,250.0" fill="none" stroke="#1a53b4" stroke-width="0.8" stroke-linecap="round" stroke-linejoin="round"/>
<path d="M172.5,245.0C172.8,244.2 173.1,241.2 174.0,240.0C174.9,238.8 177.3,238.3 178.0,238.0" fill="none" stroke="#1a53b4" stroke-width="0.8" stroke-linecap="round" stroke-linejoin="round"/>
<path d="M215.0,171.3C215.5,172.1 216.8,174.9 218.0,176.0C219.2,177.1 221.3,177.7 222.0,178.0" fill="none" stroke="#1a53b4" stroke-width="0.8" stroke-linecap="round" stroke-linejoin="round"/>
<path d="M208.2,245.0C209.0,244.7 211.5,244.2 213.0,243.0C214.5,241.8 216.3,238.8 217.0,238.0" fill="none" stroke="#1a53b4" stroke-width="0.8" stroke-linecap="round" stroke-linejoin="round"/>
<path d="M183.3,235.0C182.8,234.3 181.1,231.7 180.0,231.0C178.9,230.3 177.5,231.0 177.0,231.0" fill="none" stroke="#1a53b4" stroke-width="0.8" stroke-linecap="round" stroke-linejoin="round"/>
<path d="M153,209 L172,208.8" stroke="#2c7fe0" stroke-width="1.6" fill="none"/>
<path d="M178.0,208.0C178.8,207.2 181.1,205.2 182.5,203.5C183.9,201.8 185.6,200.6 186.6,198.0C187.6,195.4 188.3,189.7 188.6,188.0" fill="none" stroke="#2c7fe0" stroke-width="1.2" stroke-linecap="round" stroke-linejoin="round"/>
<path d="M181.0,212.0C181.9,212.5 184.8,214.1 186.6,215.0C188.4,215.9 189.4,217.0 191.6,217.5C193.8,218.0 198.6,217.9 200.0,218.0" fill="none" stroke="#2c7fe0" stroke-width="1.3" stroke-linecap="round" stroke-linejoin="round"/>
<g id="kid">
<path d="M368.8,234.3C368.2,235.2 366.4,238.1 365.1,239.8C363.7,241.5 362.2,243.1 360.5,244.3C358.8,245.5 356.9,246.4 354.9,247.0C352.9,247.6 350.7,247.8 348.6,247.7C346.4,247.6 344.2,247.1 342.1,246.5C340.0,245.8 338.0,244.8 336.0,243.7C334.1,242.6 332.3,241.2 330.6,239.7C328.9,238.2 327.3,236.6 325.9,234.8C324.5,233.0 323.2,231.1 322.0,229.2C320.9,227.2 319.9,225.1 319.1,223.0C318.3,220.9 317.7,218.7 317.1,216.5C316.6,214.2 316.2,211.9 316.0,209.6C315.7,207.4 315.5,205.0 315.5,202.7C315.4,200.4 315.4,198.1 315.5,195.8C315.6,193.5 315.8,191.1 316.2,188.9C316.5,186.6 317.0,184.3 317.5,182.1C318.1,179.8 318.8,177.6 319.6,175.5C320.4,173.3 321.3,171.2 322.3,169.1C323.3,167.0 324.5,165.0 325.7,163.0C326.9,161.0 328.2,159.1 329.6,157.3C330.9,155.4 332.4,153.6 333.9,151.8C335.3,150.0 336.8,148.2 338.4,146.4C339.9,144.7 341.4,142.9 343.1,141.3C344.7,139.6 346.3,138.0 348.1,136.5C349.8,134.9 351.6,133.5 353.5,132.2C355.4,130.9 357.4,129.6 359.4,128.5C361.4,127.4 363.5,126.3 365.6,125.4C367.7,124.5 369.9,123.7 372.1,123.0C374.3,122.2 376.5,121.6 378.8,121.1C381.0,120.5 383.3,120.1 385.6,119.7C387.9,119.3 390.2,119.1 392.5,118.9C394.8,118.7 397.2,118.6 399.5,118.6C401.8,118.6 404.1,118.7 406.4,118.9C408.7,119.1 411.1,119.3 413.4,119.6C415.7,120.0 418.0,120.3 420.2,120.8C422.5,121.3 424.8,121.9 427.0,122.5C429.1,123.2 431.3,124.0 433.4,125.0C435.5,125.9 437.5,127.0 439.5,128.2C441.5,129.4 443.4,130.7 445.2,132.1C447.0,133.5 448.8,135.0 450.5,136.6C452.2,138.2 453.9,139.8 455.5,141.5C457.1,143.2 458.6,144.9 460.1,146.7C461.6,148.4 463.1,150.3 464.5,152.1C465.9,154.0 467.2,155.9 468.6,157.8C469.9,159.7 471.3,161.6 472.6,163.5C473.9,165.5 475.1,167.4 476.4,169.4C477.6,171.4 478.8,173.4 479.9,175.4C481.1,177.4 482.2,179.5 483.2,181.6C484.3,183.6 485.2,185.8 486.2,187.9C487.2,190.0 488.2,192.1 489.1,194.2C490.1,196.3 491.1,198.4 492.1,200.5C493.1,202.7 494.1,204.8 495.0,206.9C495.9,209.0 496.8,211.2 497.6,213.4C498.4,215.5 499.1,217.7 499.8,220.0C500.5,222.2 501.2,224.4 501.8,226.7C502.4,228.9 503.0,231.2 503.5,233.5C504.0,235.7 504.5,238.0 505.0,240.3C505.4,242.6 505.8,244.9 506.2,247.2C506.6,249.5 506.9,251.8 507.2,254.1C507.5,256.4 507.8,258.7 508.0,261.0C508.3,263.4 508.5,265.7 508.7,268.0C508.9,270.3 509.0,272.7 509.2,275.0C509.3,277.3 509.5,279.6 509.6,282.0C509.8,284.3 509.9,286.6 510.0,289.0C510.2,291.3 510.3,293.6 510.4,295.9C510.5,298.3 510.6,300.6 510.6,302.9C510.6,305.2 510.6,307.6 510.5,309.9C510.5,312.2 510.4,314.6 510.2,316.9C510.1,319.2 509.9,321.5 509.7,323.9C509.5,326.2 509.2,328.5 508.9,330.8C508.6,333.1 508.3,335.4 507.9,337.7C507.6,340.0 507.2,342.3 506.7,344.6C506.3,346.9 505.9,349.2 505.4,351.5C505.0,353.8 504.5,356.1 503.9,358.3C503.4,360.6 502.9,362.9 502.2,365.1C501.6,367.3 501.0,369.6 500.3,371.8C499.5,374.0 498.7,376.2 497.8,378.3C497.0,380.5 496.0,382.6 495.0,384.7C494.0,386.7 492.9,388.8 491.7,390.8C490.6,392.8 489.4,394.8 488.1,396.8C486.9,398.7 485.6,400.7 484.2,402.6C482.8,404.4 481.4,406.3 480.0,408.1C478.5,409.9 477.0,411.7 475.5,413.4C473.9,415.2 472.3,416.9 470.7,418.5C469.1,420.2 467.4,421.8 465.7,423.4C464.0,425.0 462.3,426.6 460.5,428.1C458.7,429.6 456.9,431.1 455.1,432.5C453.3,434.0 451.5,435.4 449.6,436.8C447.7,438.2 445.8,439.6 443.9,440.9C442.0,442.3 440.1,443.6 438.1,444.8C436.2,446.1 434.2,447.2 432.1,448.4C430.1,449.5 428.0,450.6 426.0,451.7C423.9,452.7 421.8,453.7 419.7,454.6C417.5,455.5 415.4,456.4 413.2,457.2C411.0,457.9 408.8,458.6 406.5,459.3C404.3,459.9 402.0,460.5 399.8,461.0C397.5,461.5 395.2,461.9 392.9,462.3C390.7,462.7 388.4,462.9 386.0,463.1C383.7,463.3 381.4,463.4 379.1,463.5C376.8,463.5 374.5,463.5 372.1,463.3C369.8,463.2 367.5,463.0 365.2,462.7C363.0,462.3 360.7,461.9 358.4,461.3C356.2,460.8 354.0,460.1 351.7,459.4C349.5,458.7 347.3,458.0 345.2,457.1C343.1,456.3 340.9,455.3 338.9,454.3C336.8,453.2 334.8,452.1 332.9,450.9C330.9,449.6 329.0,448.3 327.2,446.9C325.4,445.5 323.6,444.0 322.0,442.4C320.4,440.8 318.9,439.1 317.5,437.3C316.1,435.5 314.8,433.5 313.6,431.6C312.4,429.6 311.3,427.6 310.4,425.5C309.5,423.4 308.8,421.3 308.2,419.1C307.6,416.9 307.2,414.6 307.0,412.4C306.8,410.2 306.7,407.9 306.9,405.6C307.0,403.4 307.4,401.1 307.9,398.9C308.4,396.7 309.2,394.6 310.1,392.5C311.0,390.5 312.1,388.4 313.3,386.6C314.6,384.7 316.0,382.9 317.6,381.3C319.1,379.7 320.9,378.2 322.7,376.8C324.5,375.5 326.5,374.2 328.5,373.1C330.5,372.0 332.6,371.1 334.7,370.3C336.8,369.4 339.1,368.8 341.3,368.2C343.5,367.7 345.8,367.3 348.1,366.9C350.4,366.5 353.8,366.2 355.0,366.0 L380,330 L380,270 Z" fill="url(#gCaps)" stroke="#4a0a1a" stroke-width="1.2" stroke-linejoin="round"/>
<path d="M364.2,239.2C363.4,239.9 361.1,242.2 359.4,243.3C357.6,244.3 355.6,245.1 353.6,245.5C351.6,245.9 348.9,245.7 347.3,245.6C345.7,245.5 345.6,245.6 344.1,245.0C342.5,244.5 339.9,243.5 338.0,242.4C336.1,241.3 334.3,239.9 332.7,238.4C331.0,236.9 329.5,235.2 328.2,233.4C326.8,231.5 325.6,229.6 324.6,227.6C323.6,225.5 322.7,223.4 321.9,221.3C321.2,219.1 320.6,216.9 320.2,214.6C319.8,212.4 319.6,209.5 319.4,207.8C319.2,206.1 319.2,206.1 319.2,204.3C319.2,202.6 319.2,199.7 319.4,197.4C319.6,195.1 319.9,192.8 320.4,190.5C320.8,188.3 321.4,186.0 322.0,183.8C322.7,181.6 323.5,179.4 324.3,177.3C325.2,175.1 326.2,173.0 327.3,171.0C328.4,169.0 329.6,167.0 330.9,165.0C332.2,163.1 333.9,160.8 334.9,159.4C336.0,158.0 336.0,158.0 337.1,156.6C338.2,155.3 340.1,153.1 341.6,151.3C343.2,149.6 344.8,147.9 346.5,146.3C348.1,144.7 349.8,143.1 351.6,141.6C353.4,140.2 355.3,138.8 357.2,137.6C359.2,136.4 361.8,135.1 363.3,134.3C364.8,133.5 364.8,133.4 366.4,132.8C368.0,132.1 370.7,131.1 373.0,130.5C375.2,129.8 377.5,129.3 379.7,128.8C382.0,128.4 384.3,128.0 386.6,127.8C388.9,127.5 391.2,127.3 393.6,127.2C395.9,127.1 398.8,127.2 400.5,127.2C402.2,127.3 402.2,127.2 404.0,127.4C405.7,127.6 408.6,127.9 410.9,128.3C413.2,128.6 415.5,129.1 417.7,129.6C420.0,130.2 422.2,130.8 424.4,131.6C426.5,132.4 429.2,133.6 430.7,134.3C432.3,135.0 432.3,135.0 433.8,135.9C435.2,136.8 437.7,138.3 439.6,139.7C441.4,141.0 443.2,142.5 444.9,144.1C446.7,145.6 448.7,147.7 449.9,148.9C451.2,150.1 451.1,150.2 452.3,151.5C453.4,152.8 455.3,155.0 456.8,156.8C458.2,158.7 459.6,160.6 460.9,162.5C462.3,164.3 463.6,166.3 464.9,168.2C466.1,170.2 467.4,172.2 468.5,174.2C469.7,176.2 470.8,178.2 471.9,180.3C473.0,182.4 474.0,184.5 475.0,186.6C476.0,188.7 477.0,190.8 477.9,192.9C478.9,195.1 479.8,197.2 480.7,199.3C481.7,201.5 482.8,204.2 483.5,205.8C484.2,207.4 484.7,208.4 484.9,208.9" fill="none" stroke="url(#gStripe)" stroke-width="3.4" stroke-linecap="round"/>
<path d="M327.3,171.0C327.9,170.0 329.6,167.0 330.9,165.0C332.2,163.1 333.9,160.8 334.9,159.4C336.0,158.0 336.0,158.0 337.1,156.6C338.2,155.3 340.1,153.1 341.6,151.3C343.2,149.6 344.8,147.9 346.5,146.3C348.1,144.7 349.8,143.1 351.6,141.6C353.4,140.2 355.3,138.8 357.2,137.6C359.2,136.4 361.8,135.1 363.3,134.3C364.8,133.5 364.8,133.4 366.4,132.8C368.0,132.1 370.7,131.1 373.0,130.5C375.2,129.8 377.5,129.3 379.7,128.8C382.0,128.4 384.3,128.0 386.6,127.8C388.9,127.5 391.2,127.3 393.6,127.2C395.9,127.1 398.8,127.2 400.5,127.2C402.2,127.3 402.2,127.2 404.0,127.4C405.7,127.6 408.6,127.9 410.9,128.3C413.2,128.6 415.5,129.1 417.7,129.6C420.0,130.2 422.2,130.8 424.4,131.6C426.5,132.4 429.2,133.6 430.7,134.3C432.3,135.0 432.3,135.0 433.8,135.9C435.2,136.8 437.7,138.3 439.6,139.7C441.4,141.0 443.2,142.5 444.9,144.1C446.7,145.6 448.7,147.7 449.9,148.9C451.2,150.1 451.1,150.2 452.3,151.5C453.4,152.8 455.3,155.0 456.8,156.8C458.2,158.7 459.6,160.6 460.9,162.5C462.3,164.3 463.6,166.3 464.9,168.2C466.1,170.2 467.9,173.2 468.5,174.2" fill="none" stroke="url(#gStripe)" stroke-width="10" filter="url(#b1)"/>
<path d="M330.9,165.0C331.6,164.1 333.9,160.8 334.9,159.4C336.0,158.0 336.0,158.0 337.1,156.6C338.2,155.3 340.1,153.1 341.6,151.3C343.2,149.6 344.8,147.9 346.5,146.3C348.1,144.7 349.8,143.1 351.6,141.6C353.4,140.2 355.3,138.8 357.2,137.6C359.2,136.4 361.8,135.1 363.3,134.3C364.8,133.5 364.8,133.4 366.4,132.8C368.0,132.1 370.7,131.1 373.0,130.5C375.2,129.8 377.5,129.3 379.7,128.8C382.0,128.4 384.3,128.0 386.6,127.8C388.9,127.5 391.2,127.3 393.6,127.2C395.9,127.1 398.8,127.2 400.5,127.2C402.2,127.3 402.2,127.2 404.0,127.4C405.7,127.6 408.6,127.9 410.9,128.3C413.2,128.6 415.5,129.1 417.7,129.6C420.0,130.2 422.2,130.8 424.4,131.6C426.5,132.4 429.2,133.6 430.7,134.3C432.3,135.0 432.3,135.0 433.8,135.9C435.2,136.8 437.7,138.3 439.6,139.7C441.4,141.0 443.2,142.5 444.9,144.1C446.7,145.6 448.7,147.7 449.9,148.9C451.2,150.1 451.1,150.2 452.3,151.5C453.4,152.8 455.3,155.0 456.8,156.8C458.2,158.7 459.6,160.6 460.9,162.5C462.3,164.3 464.2,167.3 464.9,168.2" fill="none" stroke="url(#gStripeHi)" stroke-width="4" filter="url(#b1)"/>
<path d="M486.0,387.2C485.4,388.2 483.9,391.4 482.8,393.4C481.7,395.4 480.6,397.4 479.4,399.4C478.1,401.4 476.8,403.3 475.5,405.2C474.1,407.1 472.7,408.9 471.3,410.8C469.8,412.6 468.3,414.3 466.7,416.0C465.1,417.8 463.5,419.4 461.9,421.1C460.2,422.7 458.5,424.3 456.8,425.9C455.0,427.4 453.3,428.9 451.5,430.4C449.7,431.9 447.9,433.4 446.0,434.8C444.2,436.2 441.8,437.9 440.4,439.0C439.0,440.0 439.0,440.0 437.5,440.9C436.0,441.8 433.6,443.4 431.6,444.6C429.6,445.8 427.5,446.9 425.5,448.0C423.4,449.1 421.3,450.1 419.2,451.0C417.1,451.9 414.9,452.8 412.7,453.6C410.5,454.4 408.3,455.0 406.1,455.7C403.8,456.3 401.6,456.9 399.3,457.3C397.0,457.8 394.7,458.3 392.4,458.6C390.1,458.9 387.8,459.2 385.5,459.4C383.2,459.6 380.9,459.6 378.6,459.7C376.2,459.7 373.9,459.7 371.6,459.5C369.3,459.4 367.0,459.2 364.7,458.9C362.4,458.5 360.1,458.1 357.8,457.6C355.6,457.1 353.3,456.5 351.1,455.9C348.9,455.2 346.1,454.3 344.5,453.7C342.9,453.1 342.9,453.0 341.3,452.2C339.8,451.5 337.2,450.3 335.2,449.2C333.1,448.0 331.2,446.8 329.3,445.5C327.5,444.1 325.7,442.7 324.0,441.1C322.3,439.6 320.8,437.9 319.3,436.1C317.9,434.4 316.5,432.5 315.3,430.5C314.1,428.6 313.0,426.6 312.1,424.5C311.2,422.4 310.4,420.3 309.8,418.1C309.3,415.9 308.8,413.6 308.6,411.4C308.4,409.2 308.4,406.9 308.6,404.6C308.8,402.4 309.3,400.2 309.9,398.0C310.5,395.9 311.6,393.3 312.3,391.7C313.0,390.2 313.7,389.2 313.9,388.7" fill="none" stroke="url(#gStripeB)" stroke-width="4.4" stroke-linecap="round"/>
<ellipse cx="476" cy="406" rx="9" ry="2.6" transform="rotate(-52 476 406)" fill="#f0b0c0" opacity="0.8" filter="url(#b1)"/>
<path d="M368.2,233.9C367.5,234.8 365.7,237.6 364.2,239.2C362.7,240.7 361.1,242.2 359.4,243.3C357.6,244.3 355.6,245.1 353.6,245.5C351.6,245.9 348.9,245.7 347.3,245.6C345.7,245.5 345.6,245.6 344.1,245.0C342.5,244.5 339.9,243.5 338.0,242.4C336.1,241.3 334.3,239.9 332.7,238.4C331.0,236.9 329.5,235.2 328.2,233.4C326.8,231.5 325.2,228.5 324.6,227.6" fill="none" stroke="#c02a48" stroke-width="3.2" stroke-linecap="round"/>
<path d="M327.1,225.9C326.7,224.9 325.4,221.7 324.7,219.5C324.1,217.3 323.6,215.0 323.3,212.8C323.0,210.5 322.9,208.2 322.9,205.9C322.9,203.6 323.0,201.3 323.3,199.0C323.6,196.8 324.0,194.5 324.6,192.2C325.1,190.0 325.7,187.7 326.5,185.5C327.3,183.3 328.1,181.2 329.1,179.1C330.1,177.0 331.1,174.9 332.3,172.9C333.5,170.9 334.8,169.0 336.1,167.0C337.4,165.1 338.9,163.3 340.3,161.5C341.8,159.7 343.3,157.9 344.9,156.2C346.5,154.5 348.2,152.8 349.9,151.3C351.6,149.7 353.3,148.2 355.2,146.8C357.0,145.4 359.0,144.2 361.0,143.1C363.0,141.9 365.1,141.0 367.2,140.1C369.4,139.3 371.6,138.6 373.8,138.0C376.1,137.4 378.4,137.0 380.7,136.6C382.9,136.3 385.3,136.0 387.6,135.8C389.9,135.6 392.2,135.5 394.6,135.6C396.9,135.6 399.2,135.7 401.5,135.9C403.8,136.1 406.1,136.4 408.4,136.9C410.7,137.3 413.0,137.8 415.2,138.5C417.4,139.1 419.6,139.8 421.8,140.7C423.9,141.5 426.0,142.5 428.0,143.6C430.1,144.7 432.0,145.9 433.9,147.2C435.8,148.6 437.6,150.0 439.4,151.5C441.1,153.0 442.8,154.7 444.4,156.3C446.0,158.0 447.6,159.8 449.0,161.6C450.5,163.4 451.9,165.2 453.3,167.1C454.6,169.0 455.9,171.0 457.2,172.9C458.4,174.9 459.6,176.9 460.7,179.0C461.8,181.0 462.9,183.1 463.9,185.2C464.9,187.3 465.9,189.4 466.8,191.6C467.8,193.7 468.7,195.8 469.6,198.0C470.5,200.1 471.4,202.3 472.3,204.5C473.2,206.6 474.1,208.8 474.9,211.0C475.7,213.2 476.4,215.4 477.1,217.6C477.9,219.8 478.5,222.1 479.2,224.3C479.8,226.6 480.4,228.8 480.9,231.1C481.5,233.4 482.0,235.7 482.5,238.0C483.0,240.2 483.4,242.5 483.9,244.8C484.3,247.1 484.7,249.4 485.1,251.7C485.5,254.0 485.9,256.4 486.2,258.7C486.6,261.0 486.9,263.3 487.3,265.6C487.6,267.9 487.9,270.3 488.1,272.6C488.4,274.9 488.7,277.2 488.9,279.6C489.2,281.9 489.4,284.2 489.6,286.5C489.9,288.9 490.1,291.2 490.2,293.5C490.4,295.9 490.6,298.2 490.7,300.5C490.8,302.9 490.9,305.2 490.9,307.5C491.0,309.9 491.0,312.2 490.9,314.6C490.9,316.9 490.9,319.2 490.8,321.6C490.7,323.9 490.6,326.2 490.5,328.6C490.3,330.9 490.1,333.2 489.9,335.6C489.7,337.9 489.5,340.2 489.2,342.6C489.0,344.9 488.7,347.2 488.3,349.5C488.0,351.8 487.6,354.1 487.2,356.4C486.8,358.7 486.3,361.0 485.9,363.3C485.4,365.6 484.9,367.9 484.3,370.2C483.7,372.4 483.1,374.7 482.4,376.9C481.7,379.1 481.0,381.3 480.2,383.5C479.4,385.7 478.5,387.9 477.6,390.0C476.6,392.1 475.6,394.2 474.5,396.3C473.4,398.3 472.2,400.3 471.0,402.3C469.8,404.3 468.4,406.2 467.1,408.1C465.7,410.0 464.2,411.8 462.7,413.5C461.2,415.3 459.7,417.0 458.0,418.7C456.4,420.4 454.8,422.0 453.1,423.6C451.4,425.3 449.6,426.8 447.9,428.3C446.1,429.9 444.3,431.4 442.5,432.8C440.6,434.3 438.8,435.7 436.9,437.0C434.9,438.3 433.0,439.6 431.0,440.8C429.0,442.1 427.0,443.2 425.0,444.3C422.9,445.4 420.8,446.5 418.7,447.4C416.6,448.4 414.4,449.2 412.2,450.0C410.1,450.8 407.8,451.5 405.6,452.1C403.3,452.7 401.1,453.2 398.8,453.7C396.5,454.2 394.2,454.6 391.9,454.9C389.6,455.2 387.3,455.5 385.0,455.6C382.7,455.8 380.3,455.9 378.0,455.9C375.7,455.9 373.3,455.8 371.0,455.7C368.7,455.6 366.4,455.4 364.1,455.1C361.8,454.8 359.5,454.4 357.2,453.9C354.9,453.5 352.6,452.9 350.4,452.3C348.2,451.7 345.9,451.0 343.8,450.2C341.6,449.4 339.5,448.5 337.4,447.5C335.4,446.4 333.4,445.3 331.5,444.0C329.6,442.7 327.7,441.3 326.0,439.8C324.3,438.3 322.6,436.7 321.2,435.0C319.7,433.3 318.3,431.4 317.0,429.5C315.8,427.6 314.7,425.6 313.8,423.5C312.8,421.4 312.0,419.3 311.5,417.1C310.9,414.9 310.5,412.6 310.3,410.4C310.1,408.2 310.1,405.9 310.4,403.7C310.6,401.4 311.1,399.2 311.8,397.1C312.5,395.0 313.5,392.9 314.5,390.9C315.6,388.9 316.9,387.0 318.3,385.2C319.7,383.5 321.3,381.8 323.0,380.3C324.7,378.8 326.6,377.5 328.5,376.3C330.4,375.2 332.5,374.2 334.6,373.4C336.7,372.7 338.9,372.1 341.2,371.7C343.4,371.3 345.7,371.2 348.0,371.1C350.3,371.0 353.8,371.0 355.0,371.0" fill="none" stroke="#560c1e" stroke-width="4.2" opacity="0.85"/>
<path d="M367.6,233.6C366.9,234.4 364.9,237.1 363.3,238.6C361.8,240.0 360.1,241.4 358.3,242.3C356.4,243.2 354.4,243.8 352.3,244.0C350.3,244.2 348.1,244.0 346.0,243.5C344.0,243.1 341.9,242.2 340.0,241.1C338.1,240.0 336.4,238.6 334.8,237.1C333.2,235.6 331.7,233.8 330.5,231.9C329.2,230.0 328.1,228.0 327.1,225.9C326.2,223.9 325.4,221.7 324.7,219.5C324.1,217.3 323.6,215.0 323.3,212.8C323.0,210.5 322.9,208.2 322.9,205.9C322.9,203.6 323.0,201.3 323.3,199.0C323.6,196.8 324.0,194.5 324.6,192.2C325.1,190.0 325.7,187.7 326.5,185.5C327.3,183.3 328.1,181.2 329.1,179.1C330.1,177.0 331.1,174.9 332.3,172.9C333.5,170.9 334.8,169.0 336.1,167.0C337.4,165.1 338.9,163.3 340.3,161.5C341.8,159.7 343.3,157.9 344.9,156.2C346.5,154.5 348.2,152.8 349.9,151.3C351.6,149.7 353.3,148.2 355.2,146.8C357.0,145.4 359.0,144.2 361.0,143.1C363.0,141.9 365.1,141.0 367.2,140.1C369.4,139.3 371.6,138.6 373.8,138.0C376.1,137.4 378.4,137.0 380.7,136.6C382.9,136.3 385.3,136.0 387.6,135.8C389.9,135.6 392.2,135.5 394.6,135.6C396.9,135.6 399.2,135.7 401.5,135.9C403.8,136.1 406.1,136.4 408.4,136.9C410.7,137.3 413.0,137.8 415.2,138.5C417.4,139.1 419.6,139.8 421.8,140.7C423.9,141.5 426.0,142.5 428.0,143.6C430.1,144.7 432.0,145.9 433.9,147.2C435.8,148.6 437.6,150.0 439.4,151.5C441.1,153.0 442.8,154.7 444.4,156.3C446.0,158.0 447.6,159.8 449.0,161.6C450.5,163.4 451.9,165.2 453.3,167.1C454.6,169.0 455.9,171.0 457.2,172.9C458.4,174.9 459.6,176.9 460.7,179.0C461.8,181.0 462.9,183.1 463.9,185.2C464.9,187.3 465.9,189.4 466.8,191.6C467.8,193.7 468.7,195.8 469.6,198.0C470.5,200.1 471.4,202.3 472.3,204.5C473.2,206.6 474.1,208.8 474.9,211.0C475.7,213.2 476.4,215.4 477.1,217.6C477.9,219.8 478.5,222.1 479.2,224.3C479.8,226.6 480.4,228.8 480.9,231.1C481.5,233.4 482.0,235.7 482.5,238.0C483.0,240.2 483.4,242.5 483.9,244.8C484.3,247.1 484.7,249.4 485.1,251.7C485.5,254.0 485.9,256.4 486.2,258.7C486.6,261.0 486.9,263.3 487.3,265.6C487.6,267.9 487.9,270.3 488.1,272.6C488.4,274.9 488.7,277.2 488.9,279.6C489.2,281.9 489.4,284.2 489.6,286.5C489.9,288.9 490.1,291.2 490.2,293.5C490.4,295.9 490.6,298.2 490.7,300.5C490.8,302.9 490.9,305.2 490.9,307.5C491.0,309.9 491.0,312.2 490.9,314.6C490.9,316.9 490.9,319.2 490.8,321.6C490.7,323.9 490.6,326.2 490.5,328.6C490.3,330.9 490.1,333.2 489.9,335.6C489.7,337.9 489.5,340.2 489.2,342.6C489.0,344.9 488.7,347.2 488.3,349.5C488.0,351.8 487.6,354.1 487.2,356.4C486.8,358.7 486.3,361.0 485.9,363.3C485.4,365.6 484.9,367.9 484.3,370.2C483.7,372.4 483.1,374.7 482.4,376.9C481.7,379.1 481.0,381.3 480.2,383.5C479.4,385.7 478.5,387.9 477.6,390.0C476.6,392.1 475.6,394.2 474.5,396.3C473.4,398.3 472.2,400.3 471.0,402.3C469.8,404.3 468.4,406.2 467.1,408.1C465.7,410.0 464.2,411.8 462.7,413.5C461.2,415.3 459.7,417.0 458.0,418.7C456.4,420.4 454.8,422.0 453.1,423.6C451.4,425.3 449.6,426.8 447.9,428.3C446.1,429.9 444.3,431.4 442.5,432.8C440.6,434.3 438.8,435.7 436.9,437.0C434.9,438.3 433.0,439.6 431.0,440.8C429.0,442.1 427.0,443.2 425.0,444.3C422.9,445.4 420.8,446.5 418.7,447.4C416.6,448.4 414.4,449.2 412.2,450.0C410.1,450.8 407.8,451.5 405.6,452.1C403.3,452.7 401.1,453.2 398.8,453.7C396.5,454.2 394.2,454.6 391.9,454.9C389.6,455.2 387.3,455.5 385.0,455.6C382.7,455.8 380.3,455.9 378.0,455.9C375.7,455.9 373.3,455.8 371.0,455.7C368.7,455.6 366.4,455.4 364.1,455.1C361.8,454.8 359.5,454.4 357.2,453.9C354.9,453.5 352.6,452.9 350.4,452.3C348.2,451.7 345.9,451.0 343.8,450.2C341.6,449.4 339.5,448.5 337.4,447.5C335.4,446.4 333.4,445.3 331.5,444.0C329.6,442.7 327.7,441.3 326.0,439.8C324.3,438.3 322.6,436.7 321.2,435.0C319.7,433.3 318.3,431.4 317.0,429.5C315.8,427.6 314.7,425.6 313.8,423.5C312.8,421.4 312.0,419.3 311.5,417.1C310.9,414.9 310.5,412.6 310.3,410.4C310.1,408.2 310.1,405.9 310.4,403.7C310.6,401.4 311.1,399.2 311.8,397.1C312.5,395.0 313.5,392.9 314.5,390.9C315.6,388.9 316.9,387.0 318.3,385.2C319.7,383.5 321.3,381.8 323.0,380.3C324.7,378.8 326.6,377.5 328.5,376.3C330.4,375.2 332.5,374.2 334.6,373.4C336.7,372.7 338.9,372.1 341.2,371.7C343.4,371.3 345.7,371.2 348.0,371.1C350.3,371.0 353.8,371.0 355.0,371.0 L380,330 L380,270 Z" fill="url(#gFace)" stroke="#fbe6d4" stroke-width="1.7"/>
<g clip-path="url(#cFace)"><path d="M323.3,199.0C323.5,197.9 324.0,194.5 324.6,192.2C325.1,190.0 325.7,187.7 326.5,185.5C327.3,183.3 328.1,181.2 329.1,179.1C330.1,177.0 331.1,174.9 332.3,172.9C333.5,170.9 334.8,169.0 336.1,167.0C337.4,165.1 338.9,163.3 340.3,161.5C341.8,159.7 343.3,157.9 344.9,156.2C346.5,154.5 348.2,152.8 349.9,151.3C351.6,149.7 353.3,148.2 355.2,146.8C357.0,145.4 359.0,144.2 361.0,143.1C363.0,141.9 365.1,141.0 367.2,140.1C369.4,139.3 371.6,138.6 373.8,138.0C376.1,137.4 378.4,137.0 380.7,136.6C382.9,136.3 385.3,136.0 387.6,135.8C389.9,135.6 392.2,135.5 394.6,135.6C396.9,135.6 399.2,135.7 401.5,135.9C403.8,136.1 406.1,136.4 408.4,136.9C410.7,137.3 413.0,137.8 415.2,138.5C417.4,139.1 419.6,139.8 421.8,140.7C423.9,141.5 426.0,142.5 428.0,143.6C430.1,144.7 432.0,145.9 433.9,147.2C435.8,148.6 437.6,150.0 439.4,151.5C441.1,153.0 442.8,154.7 444.4,156.3C446.0,158.0 447.6,159.8 449.0,161.6C450.5,163.4 451.9,165.2 453.3,167.1C454.6,169.0 455.9,171.0 457.2,172.9C458.4,174.9 459.6,176.9 460.7,179.0C461.8,181.0 462.9,183.1 463.9,185.2C464.9,187.3 465.9,189.4 466.8,191.6C467.8,193.7 468.7,195.8 469.6,198.0C470.5,200.1 471.4,202.3 472.3,204.5C473.2,206.6 474.1,208.8 474.9,211.0C475.7,213.2 476.4,215.4 477.1,217.6C477.9,219.8 478.5,222.1 479.2,224.3C479.8,226.6 480.6,230.0 480.9,231.1" fill="none" stroke="#dd3540" stroke-width="22" opacity="0.8" filter="url(#b4)"/><path d="M474.5,396.3C473.9,397.3 472.2,400.3 471.0,402.3C469.8,404.3 468.4,406.2 467.1,408.1C465.7,410.0 464.2,411.8 462.7,413.5C461.2,415.3 459.7,417.0 458.0,418.7C456.4,420.4 454.8,422.0 453.1,423.6C451.4,425.3 449.6,426.8 447.9,428.3C446.1,429.9 444.3,431.4 442.5,432.8C440.6,434.3 438.8,435.7 436.9,437.0C434.9,438.3 433.0,439.6 431.0,440.8C429.0,442.1 427.0,443.2 425.0,444.3C422.9,445.4 420.8,446.5 418.7,447.4C416.6,448.4 414.4,449.2 412.2,450.0C410.1,450.8 407.8,451.5 405.6,452.1C403.3,452.7 401.1,453.2 398.8,453.7C396.5,454.2 394.2,454.6 391.9,454.9C389.6,455.2 387.3,455.5 385.0,455.6C382.7,455.8 380.3,455.9 378.0,455.9C375.7,455.9 373.3,455.8 371.0,455.7C368.7,455.6 366.4,455.4 364.1,455.1C361.8,454.8 359.5,454.4 357.2,453.9C354.9,453.5 352.6,452.9 350.4,452.3C348.2,451.7 345.9,451.0 343.8,450.2C341.6,449.4 339.5,448.5 337.4,447.5C335.4,446.4 333.4,445.3 331.5,444.0C329.6,442.7 327.7,441.3 326.0,439.8C324.3,438.3 322.6,436.7 321.2,435.0C319.7,433.3 318.3,431.4 317.0,429.5C315.8,427.6 314.3,424.5 313.8,423.5" fill="none" stroke="#e4444e" stroke-width="12" opacity="0.5" filter="url(#b4)"/><ellipse cx="322" cy="398" rx="10" ry="16" fill="#fac6c2" opacity="0.7" filter="url(#b4)"/><ellipse cx="343" cy="218" rx="9" ry="12" fill="#fac6c2" opacity="0.3" filter="url(#b4)"/></g>
<path d="M431.0,262.0C429.8,259.4 429.7,257.9 430.9,255.0C432.1,252.1 434.5,247.9 438.2,244.6C441.8,241.3 447.9,237.4 452.8,235.2C457.7,232.9 463.3,230.8 467.4,231.0C471.6,231.2 475.5,232.9 477.9,236.2C480.3,239.5 481.6,246.0 482.1,250.8C482.6,255.7 482.4,261.6 481.0,265.5C479.6,269.3 478.1,272.3 473.7,273.8C469.4,275.4 460.8,275.4 454.9,274.9C449.0,274.4 442.2,272.8 438.2,270.7C434.2,268.5 432.2,264.6 431.0,262.0Z" fill="#f7aeac" stroke="#f7aeac" stroke-width="4" stroke-linejoin="round" filter="url(#b2)" opacity="0.45"/>
<path d="M431.0,299.0C431.3,296.9 431.0,294.3 434.0,292.4C436.9,290.4 443.4,288.5 448.6,287.1C453.8,285.7 460.4,284.2 465.3,284.0C470.2,283.8 474.9,283.3 477.8,286.1C480.8,288.9 482.0,295.5 483.1,300.7C484.1,305.9 484.6,312.2 484.1,317.4C483.6,322.7 482.4,328.8 479.9,332.1C477.5,335.4 473.7,337.6 469.5,337.3C465.3,336.9 459.7,333.6 454.9,330.0C450.0,326.3 444.1,319.5 440.2,315.4C436.4,311.2 433.4,307.6 431.9,304.9C430.3,302.2 430.7,301.1 431.0,299.0Z" fill="#f7aeac" stroke="#f7aeac" stroke-width="4" stroke-linejoin="round" filter="url(#b2)" opacity="0.45"/>
<path d="M423.5,357.5C423.5,354.5 423.3,351.5 425.4,349.8C427.6,348.1 432.3,347.8 436.4,347.5C440.6,347.2 445.7,347.2 450.4,348.2C455.1,349.3 460.7,351.3 464.6,353.8C468.6,356.3 471.9,359.7 474.0,363.1C476.1,366.5 477.2,370.2 477.2,374.2C477.2,378.1 475.9,383.0 474.0,386.7C472.2,390.4 469.2,394.0 466.1,396.1C463.0,398.2 458.9,399.8 455.2,399.2C451.6,398.7 447.8,396.1 444.2,393.0C440.5,389.8 436.4,384.6 433.3,380.4C430.2,376.2 427.1,371.7 425.4,367.9C423.8,364.1 423.5,360.5 423.5,357.5Z" fill="#f7aeac" stroke="#f7aeac" stroke-width="4" stroke-linejoin="round" filter="url(#b2)" opacity="0.45"/>
<path d="M395.0,388.7C391.5,389.3 388.7,390.6 386.7,394.1C384.7,397.6 383.7,404.6 382.8,409.8C382.0,415.0 380.8,420.6 381.5,425.5C382.1,430.3 383.2,436.0 386.7,439.1C390.2,442.1 397.1,444.3 402.4,443.6C407.6,443.0 414.1,438.9 418.0,434.9C422.0,430.8 425.4,424.6 425.9,419.2C426.3,413.8 423.7,407.3 420.7,402.5C417.6,397.7 411.9,392.8 407.6,390.5C403.3,388.2 398.5,388.1 395.0,388.7Z" fill="#f7aeac" stroke="#f7aeac" stroke-width="4" stroke-linejoin="round" filter="url(#b2)" opacity="0.45"/>
<path d="M364.5,385.0C362.5,384.0 361.4,382.9 357.7,384.4C353.9,386.0 346.3,390.1 342.0,394.4C337.6,398.6 334.1,404.8 331.5,410.0C328.9,415.3 325.9,421.2 326.3,425.7C326.8,430.2 329.8,435.6 334.2,437.2C338.7,438.9 347.6,437.7 353.1,435.6C358.5,433.6 364.1,429.8 367.1,424.7C370.0,419.5 370.4,410.6 370.8,404.8C371.2,399.1 370.4,393.5 369.4,390.2C368.3,386.9 366.5,386.0 364.5,385.0Z" fill="#f7aeac" stroke="#f7aeac" stroke-width="4" stroke-linejoin="round" filter="url(#b2)" opacity="0.45"/>
<g clip-path="url(#cFace)"><path d="M352,214L330,203M377,200L373,166M408,212L423,174M425,240L470,214M433,283L485,282M428,325L483,344M410,372L446,418M377,395L376,449M345,385L318,402" fill="none" stroke="#f9c4c0" stroke-width="5" stroke-linecap="round" opacity="0.42" filter="url(#b2)"/><path d="M352,214L330,203M377,200L373,166M408,212L423,174M425,240L470,214M433,283L485,282M428,325L483,344M410,372L446,418M377,395L376,449M345,385L318,402" fill="none" stroke="#fde0dc" stroke-width="1.2" stroke-linecap="round" opacity="0.3" filter="url(#b1)"/></g>
<path d="M279.0,441.0C276.5,438.1 275.9,425.7 275.0,420.0C274.1,414.3 272.6,405.6 272.5,400.0C272.4,394.4 273.2,385.0 274.0,380.0C274.8,375.0 276.3,368.3 278.0,364.0C279.7,359.7 283.1,353.1 286.0,349.0C288.9,344.9 294.9,338.2 299.0,334.5C303.1,330.8 310.2,325.9 315.0,322.5C319.8,319.1 328.1,313.6 333.0,310.0C337.9,306.4 346.1,300.8 350.0,297.0C353.9,293.2 358.6,287.3 361.0,283.0C363.4,278.7 366.1,270.6 367.5,266.0C368.9,261.4 370.3,253.9 371.0,250.0C371.7,246.1 372.6,240.9 372.5,238.0C372.4,235.1 371.2,231.2 370.0,229.0C368.8,226.8 365.8,223.8 364.0,222.0C362.2,220.2 358.1,217.7 357.0,216.0C355.9,214.3 355.3,211.3 356.0,210.0C356.7,208.7 360.3,208.5 362.0,207.0C363.7,205.5 366.6,199.8 368.0,199.0C369.4,198.2 371.0,200.0 372.0,201.0C373.0,202.0 373.7,205.3 375.0,206.0C376.3,206.7 379.6,207.0 381.0,206.0C382.4,205.0 384.2,200.8 385.0,199.0C385.8,197.2 385.3,193.8 387.0,193.0C388.7,192.2 395.7,191.6 397.0,193.0C398.3,194.4 396.4,200.2 396.0,203.0C395.6,205.8 393.9,210.6 394.0,213.0C394.1,215.4 395.5,218.7 397.0,220.0C398.5,221.3 402.9,222.4 405.0,222.0C407.1,221.6 410.3,218.3 412.0,217.0C413.7,215.7 415.6,212.7 417.0,213.0C418.4,213.3 422.0,216.9 422.0,219.0C422.0,221.1 418.1,225.3 417.0,228.0C415.9,230.7 414.4,235.5 414.0,238.0C413.6,240.5 413.2,243.9 414.0,246.0C414.8,248.1 417.8,251.7 420.0,253.0C422.2,254.3 427.6,254.4 430.0,255.0C432.4,255.6 436.2,255.7 437.0,257.0C437.8,258.3 437.0,262.0 436.0,264.0C435.0,266.0 431.7,269.0 430.0,271.0C428.3,273.0 425.0,275.6 424.0,278.0C423.0,280.4 422.4,285.5 423.0,288.0C423.6,290.5 426.5,294.3 428.0,296.0C429.5,297.7 433.7,298.6 434.0,300.0C434.3,301.4 432.0,304.6 430.0,306.0C428.0,307.4 422.7,308.6 420.0,310.0C417.3,311.4 411.8,313.5 411.0,316.0C410.2,318.5 412.5,324.9 414.0,328.0C415.5,331.1 419.8,335.3 422.0,338.0C424.2,340.7 429.2,344.6 430.0,347.0C430.8,349.4 429.4,352.9 428.0,355.0C426.6,357.1 422.1,361.4 420.0,362.0C417.9,362.6 415.0,359.5 413.0,359.0C411.0,358.5 407.8,357.9 406.0,358.5C404.2,359.1 401.1,361.1 400.0,363.0C398.9,364.9 398.5,369.2 398.5,372.0C398.5,374.8 399.4,380.3 400.0,383.0C400.6,385.7 403.6,389.5 403.0,391.0C402.4,392.5 398.1,393.9 396.0,394.0C393.9,394.1 389.7,392.1 388.0,392.0C386.3,391.9 385.0,393.8 384.0,393.0C383.0,392.2 382.0,387.3 381.0,386.0C380.0,384.7 378.1,383.2 377.0,383.5C375.9,383.8 373.8,386.4 373.0,388.0C372.2,389.6 372.1,394.4 371.0,395.0C369.9,395.6 366.8,393.0 365.0,392.0C363.2,391.0 358.7,390.0 358.0,388.0C357.3,386.0 359.4,380.5 360.0,378.0C360.6,375.5 362.4,372.2 362.0,370.0C361.6,367.8 358.7,363.2 357.0,362.0C355.3,360.8 352.1,361.5 350.0,361.5C347.9,361.5 344.7,361.8 342.0,362.0C339.3,362.2 334.4,362.2 331.0,363.0C327.6,363.8 321.4,366.2 318.0,368.0C314.6,369.8 309.4,373.4 307.0,376.0C304.6,378.6 301.9,383.2 300.6,386.6C299.3,390.0 298.9,396.7 298.0,400.0C297.1,403.3 295.2,406.4 294.4,410.0C293.6,413.6 292.7,421.7 292.5,426.0C292.3,430.3 294.9,438.9 293.0,441.0C291.1,443.1 281.5,443.9 279.0,441.0Z" fill="url(#gPelvis)"/>
<g clip-path="url(#cPel)"><path d="M279.0,441.0C276.5,438.1 275.9,425.7 275.0,420.0C274.1,414.3 272.6,405.6 272.5,400.0C272.4,394.4 273.2,385.0 274.0,380.0C274.8,375.0 276.3,368.3 278.0,364.0C279.7,359.7 283.1,353.1 286.0,349.0C288.9,344.9 294.9,338.2 299.0,334.5C303.1,330.8 310.2,325.9 315.0,322.5C319.8,319.1 328.1,313.6 333.0,310.0C337.9,306.4 346.1,300.8 350.0,297.0C353.9,293.2 358.6,287.3 361.0,283.0C363.4,278.7 366.1,270.6 367.5,266.0C368.9,261.4 370.3,253.9 371.0,250.0C371.7,246.1 372.6,240.9 372.5,238.0C372.4,235.1 371.2,231.2 370.0,229.0C368.8,226.8 365.8,223.8 364.0,222.0C362.2,220.2 358.1,217.7 357.0,216.0C355.9,214.3 355.3,211.3 356.0,210.0C356.7,208.7 360.3,208.5 362.0,207.0C363.7,205.5 366.6,199.8 368.0,199.0C369.4,198.2 371.0,200.0 372.0,201.0C373.0,202.0 373.7,205.3 375.0,206.0C376.3,206.7 379.6,207.0 381.0,206.0C382.4,205.0 384.2,200.8 385.0,199.0C385.8,197.2 385.3,193.8 387.0,193.0C388.7,192.2 395.7,191.6 397.0,193.0C398.3,194.4 396.4,200.2 396.0,203.0C395.6,205.8 393.9,210.6 394.0,213.0C394.1,215.4 395.5,218.7 397.0,220.0C398.5,221.3 402.9,222.4 405.0,222.0C407.1,221.6 410.3,218.3 412.0,217.0C413.7,215.7 415.6,212.7 417.0,213.0C418.4,213.3 422.0,216.9 422.0,219.0C422.0,221.1 418.1,225.3 417.0,228.0C415.9,230.7 414.4,235.5 414.0,238.0C413.6,240.5 413.2,243.9 414.0,246.0C414.8,248.1 417.8,251.7 420.0,253.0C422.2,254.3 427.6,254.4 430.0,255.0C432.4,255.6 436.2,255.7 437.0,257.0C437.8,258.3 437.0,262.0 436.0,264.0C435.0,266.0 431.7,269.0 430.0,271.0C428.3,273.0 425.0,275.6 424.0,278.0C423.0,280.4 422.4,285.5 423.0,288.0C423.6,290.5 426.5,294.3 428.0,296.0C429.5,297.7 433.7,298.6 434.0,300.0C434.3,301.4 432.0,304.6 430.0,306.0C428.0,307.4 422.7,308.6 420.0,310.0C417.3,311.4 411.8,313.5 411.0,316.0C410.2,318.5 412.5,324.9 414.0,328.0C415.5,331.1 419.8,335.3 422.0,338.0C424.2,340.7 429.2,344.6 430.0,347.0C430.8,349.4 429.4,352.9 428.0,355.0C426.6,357.1 422.1,361.4 420.0,362.0C417.9,362.6 415.0,359.5 413.0,359.0C411.0,358.5 407.8,357.9 406.0,358.5C404.2,359.1 401.1,361.1 400.0,363.0C398.9,364.9 398.5,369.2 398.5,372.0C398.5,374.8 399.4,380.3 400.0,383.0C400.6,385.7 403.6,389.5 403.0,391.0C402.4,392.5 398.1,393.9 396.0,394.0C393.9,394.1 389.7,392.1 388.0,392.0C386.3,391.9 385.0,393.8 384.0,393.0C383.0,392.2 382.0,387.3 381.0,386.0C380.0,384.7 378.1,383.2 377.0,383.5C375.9,383.8 373.8,386.4 373.0,388.0C372.2,389.6 372.1,394.4 371.0,395.0C369.9,395.6 366.8,393.0 365.0,392.0C363.2,391.0 358.7,390.0 358.0,388.0C357.3,386.0 359.4,380.5 360.0,378.0C360.6,375.5 362.4,372.2 362.0,370.0C361.6,367.8 358.7,363.2 357.0,362.0C355.3,360.8 352.1,361.5 350.0,361.5C347.9,361.5 344.7,361.8 342.0,362.0C339.3,362.2 334.4,362.2 331.0,363.0C327.6,363.8 321.4,366.2 318.0,368.0C314.6,369.8 309.4,373.4 307.0,376.0C304.6,378.6 301.9,383.2 300.6,386.6C299.3,390.0 298.9,396.7 298.0,400.0C297.1,403.3 295.2,406.4 294.4,410.0C293.6,413.6 292.7,421.7 292.5,426.0C292.3,430.3 294.9,438.9 293.0,441.0C291.1,443.1 281.5,443.9 279.0,441.0Z" fill="none" stroke="#d49a52" stroke-width="6.5" opacity="0.75" filter="url(#b1)"/><ellipse cx="392" cy="262" rx="13" ry="34" fill="#f9dca6" opacity="0.6" filter="url(#b4)" transform="rotate(-8 392 262)"/><ellipse cx="372" cy="345" rx="22" ry="12" fill="#f7d49c" opacity="0.5" filter="url(#b4)"/></g>
<path d="M279.0,441.0C276.5,438.1 275.9,425.7 275.0,420.0C274.1,414.3 272.6,405.6 272.5,400.0C272.4,394.4 273.2,385.0 274.0,380.0C274.8,375.0 276.3,368.3 278.0,364.0C279.7,359.7 283.1,353.1 286.0,349.0C288.9,344.9 294.9,338.2 299.0,334.5C303.1,330.8 310.2,325.9 315.0,322.5C319.8,319.1 328.1,313.6 333.0,310.0C337.9,306.4 346.1,300.8 350.0,297.0C353.9,293.2 358.6,287.3 361.0,283.0C363.4,278.7 366.1,270.6 367.5,266.0C368.9,261.4 370.3,253.9 371.0,250.0C371.7,246.1 372.6,240.9 372.5,238.0C372.4,235.1 371.2,231.2 370.0,229.0C368.8,226.8 365.8,223.8 364.0,222.0C362.2,220.2 358.1,217.7 357.0,216.0C355.9,214.3 355.3,211.3 356.0,210.0C356.7,208.7 360.3,208.5 362.0,207.0C363.7,205.5 366.6,199.8 368.0,199.0C369.4,198.2 371.0,200.0 372.0,201.0C373.0,202.0 373.7,205.3 375.0,206.0C376.3,206.7 379.6,207.0 381.0,206.0C382.4,205.0 384.2,200.8 385.0,199.0C385.8,197.2 385.3,193.8 387.0,193.0C388.7,192.2 395.7,191.6 397.0,193.0C398.3,194.4 396.4,200.2 396.0,203.0C395.6,205.8 393.9,210.6 394.0,213.0C394.1,215.4 395.5,218.7 397.0,220.0C398.5,221.3 402.9,222.4 405.0,222.0C407.1,221.6 410.3,218.3 412.0,217.0C413.7,215.7 415.6,212.7 417.0,213.0C418.4,213.3 422.0,216.9 422.0,219.0C422.0,221.1 418.1,225.3 417.0,228.0C415.9,230.7 414.4,235.5 414.0,238.0C413.6,240.5 413.2,243.9 414.0,246.0C414.8,248.1 417.8,251.7 420.0,253.0C422.2,254.3 427.6,254.4 430.0,255.0C432.4,255.6 436.2,255.7 437.0,257.0C437.8,258.3 437.0,262.0 436.0,264.0C435.0,266.0 431.7,269.0 430.0,271.0C428.3,273.0 425.0,275.6 424.0,278.0C423.0,280.4 422.4,285.5 423.0,288.0C423.6,290.5 426.5,294.3 428.0,296.0C429.5,297.7 433.7,298.6 434.0,300.0C434.3,301.4 432.0,304.6 430.0,306.0C428.0,307.4 422.7,308.6 420.0,310.0C417.3,311.4 411.8,313.5 411.0,316.0C410.2,318.5 412.5,324.9 414.0,328.0C415.5,331.1 419.8,335.3 422.0,338.0C424.2,340.7 429.2,344.6 430.0,347.0C430.8,349.4 429.4,352.9 428.0,355.0C426.6,357.1 422.1,361.4 420.0,362.0C417.9,362.6 415.0,359.5 413.0,359.0C411.0,358.5 407.8,357.9 406.0,358.5C404.2,359.1 401.1,361.1 400.0,363.0C398.9,364.9 398.5,369.2 398.5,372.0C398.5,374.8 399.4,380.3 400.0,383.0C400.6,385.7 403.6,389.5 403.0,391.0C402.4,392.5 398.1,393.9 396.0,394.0C393.9,394.1 389.7,392.1 388.0,392.0C386.3,391.9 385.0,393.8 384.0,393.0C383.0,392.2 382.0,387.3 381.0,386.0C380.0,384.7 378.1,383.2 377.0,383.5C375.9,383.8 373.8,386.4 373.0,388.0C372.2,389.6 372.1,394.4 371.0,395.0C369.9,395.6 366.8,393.0 365.0,392.0C363.2,391.0 358.7,390.0 358.0,388.0C357.3,386.0 359.4,380.5 360.0,378.0C360.6,375.5 362.4,372.2 362.0,370.0C361.6,367.8 358.7,363.2 357.0,362.0C355.3,360.8 352.1,361.5 350.0,361.5C347.9,361.5 344.7,361.8 342.0,362.0C339.3,362.2 334.4,362.2 331.0,363.0C327.6,363.8 321.4,366.2 318.0,368.0C314.6,369.8 309.4,373.4 307.0,376.0C304.6,378.6 301.9,383.2 300.6,386.6C299.3,390.0 298.9,396.7 298.0,400.0C297.1,403.3 295.2,406.4 294.4,410.0C293.6,413.6 292.7,421.7 292.5,426.0C292.3,430.3 294.9,438.9 293.0,441.0C291.1,443.1 281.5,443.9 279.0,441.0Z" fill="none" stroke="#fff5da" stroke-width="2.5" stroke-linejoin="round"/>
<path d="M368.0,199.0C369.4,198.2 371.0,200.0 372.0,201.0C373.0,202.0 373.7,205.3 375.0,206.0C376.3,206.7 379.6,207.0 381.0,206.0C382.4,205.0 384.2,200.8 385.0,199.0 M396.0,203.0C395.6,205.8 393.9,210.6 394.0,213.0C394.1,215.4 395.5,218.7 397.0,220.0C398.5,221.3 402.9,222.4 405.0,222.0C407.1,221.6 410.3,218.3 412.0,217.0 M417.0,228.0C415.9,230.7 414.4,235.5 414.0,238.0C413.6,240.5 413.2,243.9 414.0,246.0C414.8,248.1 417.8,251.7 420.0,253.0C422.2,254.3 427.6,254.4 430.0,255.0 M430.0,271.0C428.3,273.0 425.0,275.6 424.0,278.0C423.0,280.4 422.4,285.5 423.0,288.0C423.6,290.5 426.5,294.3 428.0,296.0 M430.0,306.0C428.0,307.4 422.7,308.6 420.0,310.0C417.3,311.4 411.8,313.5 411.0,316.0C410.2,318.5 412.5,324.9 414.0,328.0C415.5,331.1 419.8,335.3 422.0,338.0 M420.0,362.0C417.9,362.6 415.0,359.5 413.0,359.0C411.0,358.5 407.8,357.9 406.0,358.5C404.2,359.1 401.1,361.1 400.0,363.0C398.9,364.9 398.5,369.2 398.5,372.0C398.5,374.8 399.4,380.3 400.0,383.0 M384.0,393.0C383.0,392.2 382.0,387.3 381.0,386.0C380.0,384.7 378.1,383.2 377.0,383.5C375.9,383.8 373.8,386.4 373.0,388.0C372.2,389.6 372.1,394.4 371.0,395.0 M357.0,216.0C355.9,214.3 355.3,211.3 356.0,210.0C356.7,208.7 360.3,208.5 362.0,207.0" fill="none" stroke="#fffaee" stroke-width="3.6" stroke-linecap="round"/>
<g clip-path="url(#cPel)"><path d="M318.0,358.0C317.7,359.2 309.5,361.3 306.0,364.0C302.5,366.7 299.2,370.2 297.0,374.0C294.8,377.8 293.6,382.3 292.5,387.0C291.4,391.7 290.9,396.8 290.3,402.0C289.7,407.2 289.2,413.3 288.8,418.0C288.4,422.7 288.4,427.1 287.8,430.0C287.2,432.9 286.0,435.5 285.0,435.5C284.0,435.5 282.6,433.1 281.6,430.0C280.6,426.9 279.8,422.0 279.0,417.0C278.2,412.0 276.9,405.5 276.8,400.0C276.7,394.5 277.1,389.0 278.5,384.0C279.9,379.0 282.1,373.8 285.0,370.0C287.9,366.2 292.2,363.2 296.0,361.0C299.8,358.8 304.3,357.5 308.0,357.0C311.7,356.5 318.3,356.8 318.0,358.0Z" fill="url(#gLum)" filter="url(#b2)"/><path d="M318.0,358.0C317.7,359.2 309.5,361.3 306.0,364.0C302.5,366.7 299.2,370.2 297.0,374.0C294.8,377.8 293.6,382.3 292.5,387.0C291.4,391.7 290.9,396.8 290.3,402.0C289.7,407.2 289.2,413.3 288.8,418.0C288.4,422.7 288.4,427.1 287.8,430.0C287.2,432.9 286.0,435.5 285.0,435.5C284.0,435.5 282.6,433.1 281.6,430.0C280.6,426.9 279.8,422.0 279.0,417.0C278.2,412.0 276.9,405.5 276.8,400.0C276.7,394.5 277.1,389.0 278.5,384.0C279.9,379.0 282.1,373.8 285.0,370.0C287.9,366.2 292.2,363.2 296.0,361.0C299.8,358.8 304.3,357.5 308.0,357.0C311.7,356.5 318.3,356.8 318.0,358.0Z" fill="url(#gLum2)" filter="url(#b1)"/></g>
<path d="M294.0,378.0C295.6,380.5 292.1,388.0 291.5,392.0C290.9,396.0 290.8,397.7 290.3,402.0C289.9,406.3 289.2,413.3 288.8,418.0C288.4,422.7 288.4,427.1 287.8,430.0C287.2,432.9 286.0,435.5 285.0,435.5C284.0,435.5 282.6,433.1 281.6,430.0C280.6,426.9 279.8,422.0 279.0,417.0C278.2,412.0 277.0,405.2 276.8,400.0C276.6,394.8 277.1,389.8 278.0,386.0C278.9,382.2 279.3,378.3 282.0,377.0C284.7,375.7 292.4,375.5 294.0,378.0Z" fill="url(#gLum3)" filter="url(#b05)"/>
<path d="M279.5,392 C280,410 282,424 284.5,433" fill="none" stroke="#d39a5c" stroke-width="2.2" opacity="0.7" filter="url(#b1)"/>
<path d="M279,438 L284,463 L288,481.5 L290.5,496 L300.5,496 L299,481.5 L296,463 L293.2,438 Z" fill="url(#gTube)"/>
<path d="M282.5,445 L287,466 L291,484 L292,494" fill="none" stroke="url(#gTubeHi)" stroke-width="2.6"/>
<path d="M279.5,437.0C279.0,434.2 277.4,426.2 276.6,420.0C275.8,413.8 274.8,406.7 274.8,400.0C274.8,393.3 275.5,385.8 276.5,380.0C277.5,374.2 278.8,369.8 280.8,365.0C282.8,360.2 285.1,355.7 288.5,351.0C291.9,346.3 296.2,341.3 301.0,337.0C305.8,332.7 311.3,329.1 317.0,325.0C322.7,320.9 329.2,316.8 335.0,312.5C340.8,308.2 347.3,303.7 352.0,299.0C356.7,294.3 360.2,289.8 363.0,284.5C365.8,279.2 367.5,272.8 369.0,267.0C370.5,261.2 371.5,252.8 372.0,250.0" fill="none" stroke="url(#gWallFade)" stroke-width="5" stroke-linecap="butt"/>
<path d="M279.5,437.0C279.0,434.2 277.4,426.2 276.6,420.0C275.8,413.8 274.8,406.7 274.8,400.0C274.8,393.3 275.5,385.8 276.5,380.0C277.5,374.2 278.8,369.8 280.8,365.0C282.8,360.2 285.1,355.7 288.5,351.0C291.9,346.3 296.2,341.3 301.0,337.0C305.8,332.7 311.3,329.1 317.0,325.0C322.7,320.9 329.2,316.8 335.0,312.5C340.8,308.2 347.3,303.7 352.0,299.0C356.7,294.3 360.2,289.8 363.0,284.5C365.8,279.2 367.5,272.8 369.0,267.0C370.5,261.2 371.5,252.8 372.0,250.0" fill="none" stroke="url(#gWallFade2)" stroke-width="2.2" stroke-linecap="butt"/>
<path d="M279.3,436 L284,463 L288,481.5 L290,493" fill="none" stroke="url(#gTubeEdge)" stroke-width="1.3"/>
<path d="M293.2,436 L296,463 L299,481.5 L300.4,493" fill="none" stroke="url(#gTubeEdge)" stroke-width="1.3"/>
<path d="M360.5,379.0C360.3,377.7 360.2,373.4 359.5,371.0C358.8,368.6 357.6,366.3 356.0,364.5C354.4,362.7 352.3,361.2 350.0,360.3C347.7,359.4 345.3,359.3 342.0,359.3C338.7,359.3 334.2,359.5 330.0,360.5C325.8,361.5 320.8,363.1 316.5,365.3C312.2,367.6 307.7,370.6 304.5,374.0C301.3,377.4 299.0,381.3 297.3,385.6C295.6,389.9 295.2,395.6 294.3,400.0C293.4,404.4 292.3,407.7 291.6,412.0C290.9,416.3 290.4,422.3 290.0,426.0C289.6,429.7 289.8,431.9 289.0,434.0C288.2,436.1 286.3,438.5 285.0,438.5C283.7,438.5 281.7,434.8 281.0,434.0" fill="none" stroke="#e8823c" stroke-width="5.4" stroke-linecap="round"/>
<path d="M360.5,379.0C360.3,377.7 360.2,373.4 359.5,371.0C358.8,368.6 357.6,366.3 356.0,364.5C354.4,362.7 352.3,361.2 350.0,360.3C347.7,359.4 345.3,359.3 342.0,359.3C338.7,359.3 334.2,359.5 330.0,360.5C325.8,361.5 320.8,363.1 316.5,365.3C312.2,367.6 307.7,370.6 304.5,374.0C301.3,377.4 299.0,381.3 297.3,385.6C295.6,389.9 295.2,395.6 294.3,400.0C293.4,404.4 292.3,407.7 291.6,412.0C290.9,416.3 290.4,422.3 290.0,426.0C289.6,429.7 289.8,431.9 289.0,434.0C288.2,436.1 286.3,438.5 285.0,438.5C283.7,438.5 281.7,434.8 281.0,434.0" fill="none" stroke="#fde3cc" stroke-width="2.4" stroke-linecap="round"/>
<path d="M364.5,207.0 L357.2,209.5C355.1,207.7 348.3,202.3 344.7,198.5C341.0,194.8 337.5,190.2 335.3,187.0C333.1,183.9 331.2,182.2 331.6,179.7C332.0,177.3 334.9,174.3 337.7,172.4C340.4,170.5 344.8,168.7 348.1,168.2C351.5,167.7 355.2,168.2 357.6,169.3C360.1,170.3 361.6,171.9 363.0,174.5C364.4,177.1 365.4,181.3 366.1,184.9C366.8,188.6 367.0,194.5 367.1,196.4 L364.5,207.0 Z" fill="url(#gPA)" stroke="#df434d" stroke-width="1.2" stroke-linejoin="round" filter="url(#b05)"/>
<path d="M360.8,205.1L346.4,197.7M362.0,205.4L342.4,192.9M358.3,202.8L340.0,190.3M357.1,201.3L337.1,186.2M359.7,203.2L338.1,186.0M357.6,199.8L338.5,180.0M356.7,198.0L339.9,178.6M361.4,203.0L343.2,179.5M362.1,202.9L345.5,174.8M362.5,203.0L347.1,172.4M360.0,196.3L351.9,177.1M361.8,199.6L354.1,178.4M361.9,198.5L354.7,174.8M362.5,198.9L357.5,178.2M362.8,197.5L358.4,173.4M364.0,203.4L359.7,175.5M364.2,200.7L363.3,181.3M364.3,199.6L363.9,182.8M364.5,203.2L364.5,185.9M364.7,201.9L365.1,188.1M364.8,202.6L366.0,187.0" stroke="#8a0812" stroke-width="0.7" opacity="0.32" fill="none"/>
<path d="M361.3,205.6L349.4,200.5M360.9,204.9L343.9,195.0M361.4,204.8L339.9,189.2M360.4,203.6L334.8,182.4M359.5,202.4L339.3,183.6M358.3,197.9L347.5,182.0M363.6,199.2L361.0,177.4M363.8,198.5L361.9,175.9" stroke="#ee5a5e" stroke-width="0.6" opacity="0.22" fill="none"/>
<path d="M392.5,200.0 L385.5,197.1C384.8,195.7 382.1,192.1 380.9,188.7C379.7,185.4 378.8,181.1 378.2,176.8C377.6,172.5 377.1,166.9 377.4,162.8C377.6,158.8 378.2,155.0 379.8,152.5C381.3,149.9 383.5,148.6 386.6,147.6C389.7,146.5 394.3,146.2 398.3,146.3C402.3,146.4 407.2,146.8 410.6,148.0C414.0,149.2 416.9,151.1 418.4,153.7C420.0,156.3 420.4,159.9 420.0,163.7C419.6,167.4 417.8,172.0 415.8,176.2C413.8,180.4 410.6,185.2 408.0,188.7C405.4,192.3 401.5,196.1 400.2,197.6 L392.5,200.0 Z" fill="url(#gPB)" stroke="#df434d" stroke-width="1.2" stroke-linejoin="round" filter="url(#b05)"/>
<path d="M391.2,197.8L381.1,181.6M389.8,194.0L380.5,173.0M388.9,191.2L381.7,173.4M390.9,195.5L380.0,165.8M391.2,194.1L384.0,162.5M391.2,192.9L385.4,161.8M391.1,187.5L387.8,158.6M392.0,191.5L390.4,162.9M393.5,191.1L397.1,156.8M396.1,189.8L407.0,158.3M396.2,190.7L407.3,162.7M396.2,192.7L409.9,165.4M397.5,192.3L411.8,170.2M394.9,196.9L415.6,171.1M399.5,191.7L413.0,175.8M394.9,197.7L408.3,184.8M394.6,198.1L407.1,186.8" stroke="#8a0812" stroke-width="0.7" opacity="0.32" fill="none"/>
<path d="M390.0,195.5L381.5,179.8M389.7,194.2L379.8,173.9M390.0,192.3L381.1,165.4M388.8,187.6L382.1,164.9M389.7,189.5L381.6,159.4M390.5,186.5L385.5,153.2M392.5,190.7L392.4,158.0M393.0,189.7L394.6,161.5M393.9,191.8L400.5,151.9M393.9,193.8L403.3,152.3M396.2,187.2L403.9,160.0M398.1,187.6L409.6,161.9M395.4,194.8L411.5,166.0M398.3,190.4L412.0,167.6M398.5,191.4L416.9,165.0M398.0,192.7L412.2,174.0M394.9,197.3L411.0,179.6M395.6,196.8L409.2,182.9" stroke="#ee5a5e" stroke-width="0.6" opacity="0.22" fill="none"/>
<path d="M416.0,217.6 L413.5,209.9C414.2,207.3 416.1,199.2 418.2,194.3C420.2,189.3 423.1,184.0 426.0,180.3C428.8,176.5 432.2,173.3 435.3,171.6C438.4,169.9 441.6,169.4 444.7,170.0C447.8,170.7 451.4,172.8 454.1,175.6C456.8,178.3 459.4,182.6 461.0,186.5C462.6,190.5 463.9,195.4 463.5,199.1C463.2,202.7 461.5,206.1 458.9,208.5C456.3,210.8 452.3,211.5 447.8,213.1C443.4,214.6 436.6,216.7 432.2,217.9C427.7,219.0 423.1,219.6 421.3,220.0 L416.0,217.6 Z" fill="url(#gPC)" stroke="#df434d" stroke-width="1.2" stroke-linejoin="round" filter="url(#b05)"/>
<path d="M417.0,212.7L421.5,190.1M417.6,210.7L423.2,187.1M416.9,214.3L423.4,190.0M418.1,211.0L425.0,188.9M420.4,207.2L430.2,183.8M423.3,204.5L436.7,180.5M418.5,213.9L443.6,176.6M423.2,208.8L446.8,180.2M423.8,209.9L445.1,188.9M420.2,214.7L457.0,189.3M421.0,214.9L453.0,197.8M422.7,214.5L453.8,200.1M427.2,213.7L456.5,203.5M425.5,214.7L455.3,205.6M425.5,215.1L451.3,208.4M419.1,217.0L447.5,211.9M418.9,217.2L443.1,213.7" stroke="#8a0812" stroke-width="0.7" opacity="0.32" fill="none"/>
<path d="M416.4,215.1L419.6,194.3M418.1,211.7L427.5,184.8M417.4,214.0L430.3,180.6M419.3,210.4L431.2,185.1M421.6,206.7L437.1,176.5M420.4,210.4L438.8,179.7M418.8,213.8L443.8,180.3M422.1,210.9L442.9,187.9M423.8,210.7L451.4,186.4M423.2,212.0L451.5,189.9M428.6,209.9L456.7,192.7M425.4,213.9L456.7,201.7M421.9,216.3L453.3,209.7M423.5,216.1L452.1,210.4M424.2,216.3L445.0,212.9M419.1,217.2L440.2,214.7" stroke="#ee5a5e" stroke-width="0.6" opacity="0.22" fill="none"/>
<path d="M431.0,262.0 L430.9,255.0C432.1,253.3 434.5,247.9 438.2,244.6C441.8,241.3 447.9,237.4 452.8,235.2C457.7,232.9 463.3,230.8 467.4,231.0C471.6,231.2 475.5,232.9 477.9,236.2C480.3,239.5 481.6,246.0 482.1,250.8C482.6,255.7 482.4,261.6 481.0,265.5C479.6,269.3 478.1,272.3 473.7,273.8C469.4,275.4 460.8,275.4 454.9,274.9C449.0,274.4 441.0,271.4 438.2,270.7 L431.0,262.0 Z" fill="url(#gPD)" stroke="#ec6c74" stroke-width="1.2" stroke-linejoin="round" filter="url(#b05)"/>
<path d="M435.8,255.6L444.2,244.3M434.7,257.9L454.3,236.5M433.9,259.4L459.2,236.2M435.6,258.5L460.0,239.9M437.9,257.3L465.1,238.8M440.3,256.9L470.3,240.4M438.2,258.7L472.8,242.7M441.9,258.8L466.9,251.4M439.3,260.8L474.0,255.7M437.0,263.0L467.3,268.0M439.5,263.9L469.6,270.4M439.8,264.5L468.9,272.5M436.1,264.8L451.9,273.2" stroke="#8a0812" stroke-width="0.7" opacity="0.32" fill="none"/>
<path d="M434.3,256.9L444.2,241.9M434.6,257.5L447.5,241.6M436.6,256.5L456.4,236.8M436.4,257.4L457.3,239.7M440.8,256.0L470.8,237.7M444.1,257.1L470.4,247.1M439.0,260.3L468.1,253.9M444.5,261.0L471.0,259.0M442.7,262.0L467.2,261.9M442.1,262.8L474.9,265.0M437.4,262.7L471.0,266.6M438.0,264.2L458.5,270.7M437.5,264.4L456.2,271.3M434.5,263.5L453.2,271.8" stroke="#ee5a5e" stroke-width="0.6" opacity="0.22" fill="none"/>
<path d="M431.0,299.0 L434.0,292.4C436.4,291.5 443.4,288.5 448.6,287.1C453.8,285.7 460.4,284.2 465.3,284.0C470.2,283.8 474.9,283.3 477.8,286.1C480.8,288.9 482.0,295.5 483.1,300.7C484.1,305.9 484.6,312.2 484.1,317.4C483.6,322.7 482.4,328.8 479.9,332.1C477.5,335.4 473.7,337.6 469.5,337.3C465.3,336.9 459.7,333.6 454.9,330.0C450.0,326.3 444.1,319.5 440.2,315.4C436.4,311.2 433.3,306.6 431.9,304.9 L431.0,299.0 Z" fill="url(#gPE)" stroke="#ec6c74" stroke-width="1.2" stroke-linejoin="round" filter="url(#b05)"/>
<path d="M436.6,296.1L449.7,289.3M439.2,295.4L461.5,285.6M436.9,297.0L464.3,287.6M438.1,296.8L465.4,288.4M436.1,297.6L465.3,289.6M442.1,297.7L474.5,294.1M439.0,298.7L473.5,297.4M444.3,299.4L475.7,300.5M435.6,299.5L468.7,303.3M437.8,300.3L470.6,306.6M442.0,302.8L479.1,315.7M435.5,300.9L468.4,314.9M439.5,304.8L468.2,324.2M442.2,307.3L472.4,329.8M436.9,303.8L466.3,327.8M439.8,306.9L460.4,325.4M440.2,308.2L462.8,330.6M439.3,307.7L460.9,330.3M437.8,306.5L456.2,327.0M434.4,303.6L445.4,318.5" stroke="#8a0812" stroke-width="0.7" opacity="0.32" fill="none"/>
<path d="M437.1,296.1L454.3,288.0M440.2,295.4L461.9,287.1M441.5,297.0L471.7,291.2M440.3,301.5L477.3,311.5M439.1,303.1L474.0,320.7M436.5,302.3L471.4,322.8M438.0,307.4L455.3,327.9M434.7,303.8L452.5,327.0M434.0,303.3L442.8,315.9" stroke="#ee5a5e" stroke-width="0.6" opacity="0.22" fill="none"/>
<path d="M423.5,357.5 L425.4,349.8C427.3,349.4 432.3,347.8 436.4,347.5C440.6,347.2 445.7,347.2 450.4,348.2C455.1,349.3 460.7,351.3 464.6,353.8C468.6,356.3 471.9,359.7 474.0,363.1C476.1,366.5 477.2,370.2 477.2,374.2C477.2,378.1 475.9,383.0 474.0,386.7C472.2,390.4 469.2,394.0 466.1,396.1C463.0,398.2 458.9,399.8 455.2,399.2C451.6,398.7 447.8,396.1 444.2,393.0C440.5,389.8 436.4,384.6 433.3,380.4C430.2,376.2 426.8,370.0 425.4,367.9 L423.5,357.5 Z" fill="url(#gPF)" stroke="#ec6c74" stroke-width="1.2" stroke-linejoin="round" filter="url(#b05)"/>
<path d="M430.6,355.1L444.1,350.4M426.8,356.7L451.5,350.3M429.6,356.7L452.9,353.5M427.4,357.1L455.2,354.6M433.8,357.2L458.2,356.4M434.3,361.5L464.7,372.9M434.4,363.0L467.7,379.9M432.7,363.5L466.8,385.6M430.3,363.0L455.6,383.6M427.2,361.1L457.3,390.8M426.6,361.2L452.0,391.3M426.8,361.9L452.1,395.2M430.1,366.7L445.0,387.3M428.6,365.5L445.0,391.4M427.3,364.0L442.1,389.4M426.9,363.6L436.1,380.3M426.0,362.3L435.0,379.5" stroke="#8a0812" stroke-width="0.7" opacity="0.32" fill="none"/>
<path d="M430.8,356.1L451.8,352.1M427.5,357.6L459.1,358.2M427.6,357.8L462.0,360.1M428.8,358.1L467.8,362.4M436.1,359.5L460.9,363.6M430.1,358.9L469.1,367.2M433.3,360.1L469.3,369.5M436.4,361.5L464.7,370.3M436.4,363.2L471.3,378.5M429.1,360.7L469.2,383.9M428.2,360.9L458.9,383.3M427.9,361.5L461.7,392.1M432.8,367.6L451.6,387.9M430.2,367.4L444.8,388.9M424.7,360.0L434.1,379.6" stroke="#ee5a5e" stroke-width="0.6" opacity="0.22" fill="none"/>
<path d="M395.0,388.7 L386.7,394.1C386.1,396.7 383.7,404.6 382.8,409.8C382.0,415.0 380.8,420.6 381.5,425.5C382.1,430.3 383.2,436.0 386.7,439.1C390.2,442.1 397.1,444.3 402.4,443.6C407.6,443.0 414.1,438.9 418.0,434.9C422.0,430.8 425.4,424.6 425.9,419.2C426.3,413.8 423.7,407.3 420.7,402.5C417.6,397.7 409.8,392.5 407.6,390.5 L395.0,388.7 Z" fill="url(#gPG)" stroke="#ec6c74" stroke-width="1.2" stroke-linejoin="round" filter="url(#b05)"/>
<path d="M393.2,392.3L384.5,409.6M393.3,393.1L385.2,413.1M393.4,395.2L387.0,420.8M394.2,392.7L386.9,428.3M394.1,394.2L387.6,433.8M394.9,395.5L394.7,427.3M395.8,400.9L397.8,432.4M395.6,393.3L400.7,431.4M396.1,393.7L403.5,428.5M397.5,397.0L407.3,429.6M399.8,400.8L409.6,425.7M398.2,395.2L412.2,423.2M399.4,396.1L414.3,421.3M401.4,396.3L420.7,419.3M400.3,393.5L419.0,410.0M399.9,391.9L416.6,403.1" stroke="#8a0812" stroke-width="0.7" opacity="0.32" fill="none"/>
<path d="M391.4,396.7L383.7,414.2M393.4,393.1L385.5,414.6M393.1,394.9L384.3,424.0M393.8,402.6L391.0,435.9M401.2,397.5L417.6,420.8M398.6,392.3L419.8,413.2M398.6,391.6L420.2,408.5M400.1,391.5L414.2,399.0" stroke="#ee5a5e" stroke-width="0.6" opacity="0.22" fill="none"/>
<path d="M364.5,385.0 L357.7,384.4C355.0,386.1 346.3,390.1 342.0,394.4C337.6,398.6 334.1,404.8 331.5,410.0C328.9,415.3 325.9,421.2 326.3,425.7C326.8,430.2 329.8,435.6 334.2,437.2C338.7,438.9 347.6,437.7 353.1,435.6C358.5,433.6 364.1,429.8 367.1,424.7C370.0,419.5 370.4,410.6 370.8,404.8C371.2,399.1 369.6,392.6 369.4,390.2 L364.5,385.0 Z" fill="url(#gPH)" stroke="#ec6c74" stroke-width="1.2" stroke-linejoin="round" filter="url(#b05)"/>
<path d="M360.4,387.6L341.8,399.1M357.6,389.8L338.7,403.0M355.4,391.9L336.3,406.4M360.1,389.1L333.3,413.9M355.9,393.6L337.9,411.5M361.3,388.4L334.3,417.2M357.4,394.6L337.9,421.1M361.3,391.4L346.3,421.9M361.3,393.0L346.0,430.6M363.0,389.7L351.6,425.7M363.7,393.1L360.5,426.1M364.3,392.3L363.6,423.8M364.9,390.6L366.5,415.5M365.1,389.0L368.5,411.5" stroke="#8a0812" stroke-width="0.7" opacity="0.32" fill="none"/>
<path d="M362.1,386.3L343.6,396.0M359.2,389.5L335.7,409.3M359.1,391.5L337.4,417.6M360.7,390.8L335.3,429.8M358.6,395.1L342.3,423.3M362.1,395.8L355.3,425.9M362.4,397.8L358.5,421.0M365.5,394.7L367.1,410.8" stroke="#ee5a5e" stroke-width="0.6" opacity="0.22" fill="none"/>
</g>
<ellipse cx="396.9" cy="292.0" rx="17.4" ry="18.1" fill="#b9803e" opacity="0.45" filter="url(#b2)"/><g filter="url(#b05)"><use href="#stone" transform="translate(396.40,291.00) rotate(0) scale(0.3350) translate(-453.8,-515)"/></g><ellipse cx="392.4" cy="286.3" rx="10.1" ry="10.1" fill="#e0d8c8" opacity="0.22" filter="url(#b1)"/><ellipse cx="325.7" cy="345.8" rx="16.9" ry="17.6" fill="#b9803e" opacity="0.45" filter="url(#b2)"/><g filter="url(#b05)"><use href="#stone" transform="translate(325.20,344.80) rotate(-5) scale(0.3250) translate(-453.8,-515)"/></g><ellipse cx="321.3" cy="340.2" rx="9.8" ry="9.8" fill="#e0d8c8" opacity="0.22" filter="url(#b1)"/><ellipse cx="407.5" cy="232.0" rx="8.3" ry="8.6" fill="#b9803e" opacity="0.45" filter="url(#b2)"/><g filter="url(#b05)"><use href="#stone" transform="translate(407.00,231.00) rotate(10) scale(0.1600) translate(-453.8,-515)"/></g><ellipse cx="405.1" cy="228.8" rx="4.8" ry="4.8" fill="#e0d8c8" opacity="0.22" filter="url(#b1)"/>
<circle cx="397.2" cy="291.4" r="32.4" fill="none" stroke="#ec1c24" stroke-width="3.7"/>
<path d="M437.2,461.4C441.8,460.5 449.6,459.1 455.1,459.3C460.5,459.5 465.6,460.9 469.8,462.4C473.9,464.0 477.3,466.8 480.2,468.8C483.2,470.7 484.8,471.9 487.6,474.0C490.4,476.1 494.8,478.4 497.1,481.4C499.3,484.3 499.9,488.4 501.2,491.9C502.6,495.4 504.2,498.5 505.4,502.4C506.7,506.2 508.2,510.4 508.6,515.0C509.0,519.5 508.2,525.5 507.6,529.6C506.9,533.8 506.1,536.6 504.4,540.1C502.6,543.6 500.0,547.5 497.1,550.6C494.1,553.8 490.8,557.1 486.6,559.0C482.4,561.0 476.1,561.2 471.9,562.2C467.7,563.2 464.9,564.1 461.4,565.4C457.9,566.6 454.7,568.5 450.9,569.5C447.0,570.6 442.1,572.2 438.2,571.6C434.4,571.1 430.6,568.5 427.8,566.4C424.9,564.3 423.4,561.7 421.4,559.0C419.5,556.4 418.1,553.8 416.2,550.6C414.3,547.5 412.0,544.0 409.9,540.1C407.8,536.3 405.2,532.1 403.6,527.5C402.0,523.0 401.0,517.4 400.4,512.9C399.9,508.3 399.9,504.1 400.4,500.2C401.0,496.4 402.2,493.2 403.6,489.8C405.0,486.2 406.2,482.6 408.9,479.2C411.5,475.9 416.2,472.2 419.4,469.8C422.5,467.4 424.8,466.0 427.8,464.6C430.7,463.1 432.6,462.3 437.2,461.4Z" fill="#f0b27a" opacity="0.85" filter="url(#b3)"/>
<g id="stone">
<path d="M438.0,464.0C442.3,463.2 449.8,461.8 455.0,462.0C460.2,462.2 465.0,463.5 469.0,465.0C473.0,466.5 476.2,469.2 479.0,471.0C481.8,472.8 483.3,474.0 486.0,476.0C488.7,478.0 492.8,480.2 495.0,483.0C497.2,485.8 497.7,489.7 499.0,493.0C500.3,496.3 501.8,499.3 503.0,503.0C504.2,506.7 505.7,510.7 506.0,515.0C506.3,519.3 505.7,525.0 505.0,529.0C504.3,533.0 503.7,535.7 502.0,539.0C500.3,542.3 497.8,546.0 495.0,549.0C492.2,552.0 489.0,555.2 485.0,557.0C481.0,558.8 475.0,559.0 471.0,560.0C467.0,561.0 464.3,561.8 461.0,563.0C457.7,564.2 454.7,566.0 451.0,567.0C447.3,568.0 442.7,569.5 439.0,569.0C435.3,568.5 431.7,566.0 429.0,564.0C426.3,562.0 424.8,559.5 423.0,557.0C421.2,554.5 419.8,552.0 418.0,549.0C416.2,546.0 414.0,542.7 412.0,539.0C410.0,535.3 407.5,531.3 406.0,527.0C404.5,522.7 403.5,517.3 403.0,513.0C402.5,508.7 402.5,504.7 403.0,501.0C403.5,497.3 404.7,494.3 406.0,491.0C407.3,487.7 408.5,484.2 411.0,481.0C413.5,477.8 418.0,474.3 421.0,472.0C424.0,469.7 426.2,468.3 429.0,467.0C431.8,465.7 433.7,464.8 438.0,464.0Z" fill="url(#gStone2)"/>
<g clip-path="url(#cSt)"><path d="M432,470 C438,492 436,515 434,545 M415,485 C430,492 445,488 460,480 M412,522 C430,520 450,515 472,522 M455,470 C460,490 458,520 452,560 M470,480 C480,500 482,520 475,548" fill="none" stroke="#4e4840" stroke-width="4" opacity="0.6" filter="url(#b2)"/><ellipse cx="425.0" cy="507.0" rx="8.7" ry="17.9" transform="rotate(8 425.0 507.0)" fill="#dcd4c5" opacity="0.97" filter="url(#b07)"/><ellipse cx="421.0" cy="497.0" rx="6.7" ry="9.0" transform="rotate(-25 421.0 497.0)" fill="#d9d2c4" opacity="0.90" filter="url(#b07)"/><ellipse cx="428.0" cy="520.0" rx="6.7" ry="9.0" transform="rotate(20 428.0 520.0)" fill="#cfc7b8" opacity="0.90" filter="url(#b07)"/><ellipse cx="447.3" cy="502.0" rx="9.0" ry="12.3" transform="rotate(15 447.3 502.0)" fill="#d4ccbd" opacity="0.95" filter="url(#b07)"/><ellipse cx="450.0" cy="495.0" rx="6.7" ry="6.7" transform="rotate(0 450.0 495.0)" fill="#d2cabb" opacity="0.80" filter="url(#b07)"/><ellipse cx="438.5" cy="483.0" rx="9.0" ry="7.3" transform="rotate(-20 438.5 483.0)" fill="#d0c8b9" opacity="0.92" filter="url(#b07)"/><ellipse cx="441.5" cy="530.0" rx="9.0" ry="12.3" transform="rotate(-15 441.5 530.0)" fill="#d6cebf" opacity="0.95" filter="url(#b07)"/><ellipse cx="437.0" cy="538.0" rx="6.7" ry="6.7" transform="rotate(0 437.0 538.0)" fill="#c5bdae" opacity="0.80" filter="url(#b07)"/><ellipse cx="464.6" cy="542.0" rx="13.4" ry="8.4" transform="rotate(-18 464.6 542.0)" fill="#c2baab" opacity="0.95" filter="url(#b07)"/><ellipse cx="458.0" cy="546.0" rx="6.7" ry="5.6" transform="rotate(0 458.0 546.0)" fill="#bdb5a6" opacity="0.80" filter="url(#b07)"/><ellipse cx="469.5" cy="504.0" rx="6.2" ry="11.8" transform="rotate(18 469.5 504.0)" fill="#bab2a3" opacity="0.92" filter="url(#b07)"/><ellipse cx="466.8" cy="473.8" rx="6.2" ry="4.5" transform="rotate(25 466.8 473.8)" fill="#a8a092" opacity="0.90" filter="url(#b07)"/><ellipse cx="448.4" cy="470.5" rx="5.0" ry="3.4" transform="rotate(10 448.4 470.5)" fill="#b2aa9b" opacity="0.90" filter="url(#b07)"/><ellipse cx="408.4" cy="496.5" rx="3.4" ry="7.8" transform="rotate(5 408.4 496.5)" fill="#c2baab" opacity="0.90" filter="url(#b07)"/><ellipse cx="428.0" cy="545.0" rx="5.6" ry="6.7" transform="rotate(-30 428.0 545.0)" fill="#a9a192" opacity="0.90" filter="url(#b07)"/><ellipse cx="484.0" cy="515.0" rx="2.9" ry="6.7" transform="rotate(0 484.0 515.0)" fill="#8a8377" opacity="0.90" filter="url(#b07)"/><ellipse cx="410.5" cy="511.0" rx="3.4" ry="4.5" transform="rotate(0 410.5 511.0)" fill="#bab2a3" opacity="0.85" filter="url(#b07)"/><ellipse cx="491.0" cy="529.0" rx="3.4" ry="7.8" transform="rotate(8 491.0 529.0)" fill="#77716a" opacity="0.90" filter="url(#b07)"/><ellipse cx="455.0" cy="522.0" rx="5.6" ry="4.5" transform="rotate(0 455.0 522.0)" fill="#a59d8e" opacity="0.70" filter="url(#b07)"/><ellipse cx="478.0" cy="490.0" rx="4.5" ry="5.6" transform="rotate(20 478.0 490.0)" fill="#8f887b" opacity="0.80" filter="url(#b07)"/><ellipse cx="417.0" cy="528.0" rx="3.9" ry="5.6" transform="rotate(-20 417.0 528.0)" fill="#b8b0a1" opacity="0.85" filter="url(#b07)"/><ellipse cx="432.0" cy="557.0" rx="4.5" ry="3.4" transform="rotate(20 432.0 557.0)" fill="#8e877a" opacity="0.80" filter="url(#b07)"/><ellipse cx="476.0" cy="528.0" rx="4.5" ry="6.7" transform="rotate(10 476.0 528.0)" fill="#8d867a" opacity="0.70" filter="url(#b07)"/><path d="M512,476 C498,515 480,552 430,575 L520,580 Z" fill="#22201e" opacity="0.8" filter="url(#b4)"/><ellipse cx="488" cy="545" rx="14" ry="9" transform="rotate(-45 488 545)" fill="#7b766f" opacity="0.55" filter="url(#b2)"/><circle cx="462" cy="521" r="0.9" fill="#d8d1c3" opacity="0.8"/><circle cx="465" cy="519.5" r="0.9" fill="#d8d1c3" opacity="0.8"/><circle cx="460" cy="524" r="0.9" fill="#d8d1c3" opacity="0.8"/><circle cx="474" cy="531" r="0.9" fill="#d8d1c3" opacity="0.8"/><circle cx="482" cy="478" r="0.9" fill="#d8d1c3" opacity="0.8"/><circle cx="486" cy="480" r="0.9" fill="#d8d1c3" opacity="0.8"/><circle cx="425" cy="558" r="0.9" fill="#d8d1c3" opacity="0.8"/><circle cx="422" cy="552" r="0.9" fill="#d8d1c3" opacity="0.8"/><circle cx="415" cy="536" r="0.9" fill="#d8d1c3" opacity="0.8"/><circle cx="470" cy="552" r="0.9" fill="#d8d1c3" opacity="0.8"/><circle cx="447" cy="560" r="0.9" fill="#d8d1c3" opacity="0.8"/></g>
</g>
<line x1="478.5" y1="131" x2="430.5" y2="161" stroke="#000" stroke-width="2.0"/>
<line x1="253.5" y1="245" x2="359" y2="325" stroke="#000" stroke-width="2.0"/>
<line x1="406" y1="325" x2="442" y2="486" stroke="#fff" stroke-width="1.8"/>
<line x1="515.5" y1="455.5" x2="470.5" y2="507.5" stroke="#000" stroke-width="2.0"/>
<line x1="176" y1="317.5" x2="302.7" y2="487" stroke="#000" stroke-width="2.0"/>
<line x1="288.9" y1="443" x2="302.7" y2="487" stroke="#000" stroke-width="2.0"/>
<line x1="138.5" y1="380" x2="300.5" y2="539" stroke="#000" stroke-width="2.0"/>
<line x1="130.7" y1="442.3" x2="77.2" y2="485.6" stroke="#000" stroke-width="2.0"/>
<text x="482.6" y="114.9" font-size="19.8" textLength="61.7" lengthAdjust="spacingAndGlyphs">Kidney</text>
<text x="483.4" y="141" font-size="19.8" textLength="92.3" lengthAdjust="spacingAndGlyphs">(cut open)</text>
<text x="495.6" y="416.6" font-size="19.8" textLength="61.0" lengthAdjust="spacingAndGlyphs">Kidney</text>
<text x="495.6" y="443.5" font-size="19.8" textLength="50.2" lengthAdjust="spacingAndGlyphs">stone</text>
<text x="304.8" y="489.7" font-size="19.8" textLength="55.3" lengthAdjust="spacingAndGlyphs">Ureter</text>
<text x="304.9" y="548.8" font-size="19.8" textLength="69" lengthAdjust="spacingAndGlyphs">Bladder</text>
<text x="24.8" y="505.7" font-size="19.8" textLength="67.3" lengthAdjust="spacingAndGlyphs">Urethra</text>
</svg>
</body></html>
